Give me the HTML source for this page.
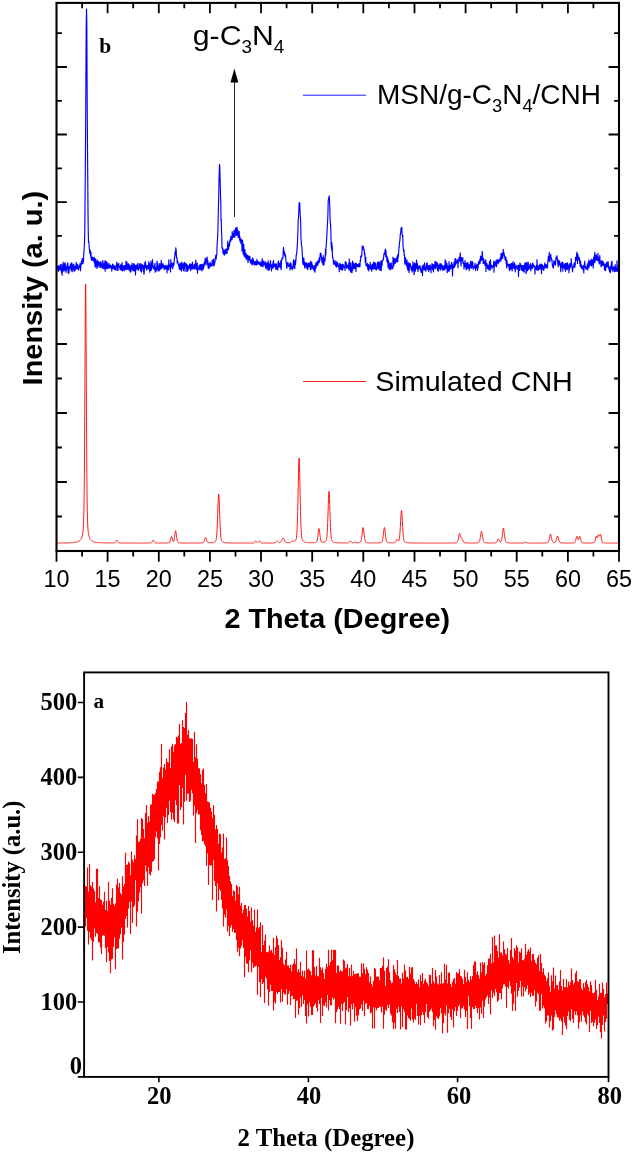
<!DOCTYPE html>
<html><head><meta charset="utf-8"><title>XRD patterns</title>
<style>html,body{margin:0;padding:0;background:#fff}svg{display:block}</style>
</head><body>
<svg width="633" height="1154" viewBox="0 0 633 1154">
<rect width="633" height="1154" fill="#fff"/>
<g font-family="'Liberation Sans', Arial, sans-serif" fill="#000">
<polyline fill="none" stroke="#0000ff" stroke-width="1.15" stroke-linejoin="round" points="56.5,273.4 56.8,267.7 57.0,269.0 57.2,269.9 57.5,266.8 57.8,268.8 58.0,268.7 58.2,265.6 58.5,271.3 58.8,270.2 59.0,266.3 59.2,268.1 59.5,269.9 59.8,267.8 60.0,267.9 60.2,264.7 60.5,269.9 60.8,268.7 61.0,269.1 61.2,264.4 61.5,272.6 61.8,268.7 62.0,267.3 62.2,275.3 62.5,268.1 62.8,264.4 63.0,267.1 63.2,262.2 63.5,270.9 63.8,267.0 64.0,266.2 64.2,270.9 64.5,263.7 64.8,269.4 65.0,262.6 65.2,266.3 65.5,264.8 65.8,271.7 66.0,272.5 66.2,267.0 66.5,270.1 66.8,267.4 67.0,269.3 67.2,265.9 67.5,263.4 67.8,263.1 68.0,268.7 68.2,273.6 68.5,268.4 68.8,266.3 69.0,272.6 69.2,268.3 69.5,267.9 69.8,268.3 70.0,267.2 70.2,266.8 70.5,263.8 70.8,268.8 71.0,267.3 71.2,270.6 71.5,266.5 71.8,262.5 72.0,267.1 72.2,271.8 72.5,266.4 72.8,265.0 73.0,269.3 73.2,264.5 73.5,266.5 73.8,264.1 74.0,271.1 74.2,266.4 74.5,267.4 74.8,270.8 75.0,270.9 75.2,266.4 75.5,267.8 75.8,268.8 76.0,266.4 76.2,262.2 76.5,268.4 76.8,269.0 77.0,267.7 77.2,264.2 77.5,266.0 77.8,264.9 78.0,265.5 78.2,269.6 78.5,270.1 78.8,267.8 79.0,267.3 79.2,267.5 79.5,265.6 79.8,265.3 80.0,263.5 80.2,265.0 80.5,270.8 80.8,266.9 81.0,263.5 81.2,262.8 81.5,261.4 81.8,264.2 82.0,263.8 82.2,258.4 82.5,262.8 82.8,259.2 83.0,263.4 83.2,258.9 83.5,261.4 83.8,253.7 84.0,251.1 84.2,248.0 84.5,242.5 84.8,229.3 85.0,206.1 85.2,183.1 85.5,147.0 85.8,102.7 86.0,58.3 86.2,28.8 86.5,9.1 86.8,22.1 87.0,61.7 87.2,104.7 87.5,146.8 87.8,184.6 88.0,210.6 88.2,228.7 88.5,242.3 88.8,241.6 89.0,244.0 89.2,247.8 89.5,249.6 89.8,253.2 90.0,251.2 90.2,250.3 90.5,256.2 90.8,253.3 91.0,252.4 91.2,259.1 91.5,256.8 91.8,260.4 92.0,258.2 92.2,257.0 92.5,257.0 92.8,259.2 93.0,260.2 93.2,259.0 93.5,260.7 93.8,257.6 94.0,261.9 94.2,257.4 94.5,261.7 94.8,264.2 95.0,265.4 95.2,267.2 95.5,258.8 95.8,265.0 96.0,266.3 96.2,265.8 96.5,261.0 96.8,264.6 97.0,268.5 97.2,259.9 97.5,265.1 97.8,266.9 98.0,263.6 98.2,265.7 98.5,261.5 98.8,262.2 99.0,262.3 99.2,265.0 99.5,264.3 99.8,267.1 100.0,262.3 100.2,264.5 100.5,267.4 100.8,266.4 101.0,261.6 101.2,266.8 101.5,263.9 101.8,266.2 102.0,266.0 102.2,268.5 102.5,265.7 102.8,260.6 103.0,261.9 103.2,267.4 103.5,264.9 103.8,268.6 104.0,266.4 104.2,263.8 104.5,268.6 104.8,263.7 105.0,260.9 105.2,271.2 105.5,260.9 105.8,267.6 106.0,268.4 106.2,266.4 106.5,261.7 106.8,268.7 107.0,262.4 107.2,262.7 107.5,265.2 107.8,268.3 108.0,267.0 108.2,268.4 108.5,265.2 108.8,265.9 109.0,263.4 109.2,265.6 109.5,268.0 109.8,265.7 110.0,267.7 110.2,265.0 110.5,265.0 110.8,266.6 111.0,266.1 111.2,268.1 111.5,267.1 111.8,271.1 112.0,266.1 112.2,266.1 112.5,264.0 112.8,266.8 113.0,268.5 113.2,264.8 113.5,266.6 113.8,268.6 114.0,266.5 114.2,265.5 114.5,269.4 114.8,267.1 115.0,267.9 115.2,269.9 115.5,269.9 115.8,266.0 116.0,265.5 116.2,266.7 116.5,266.6 116.8,262.0 117.0,270.3 117.2,267.0 117.5,268.9 117.8,264.0 118.0,270.4 118.2,265.5 118.5,266.8 118.8,263.4 119.0,266.6 119.2,266.5 119.5,266.6 119.8,268.2 120.0,267.3 120.2,269.6 120.5,265.9 120.8,264.5 121.0,267.1 121.2,268.8 121.5,270.4 121.8,269.3 122.0,262.6 122.2,268.2 122.5,271.0 122.8,267.4 123.0,265.9 123.2,268.0 123.5,265.9 123.8,268.9 124.0,267.2 124.2,270.9 124.5,268.5 124.8,265.4 125.0,266.0 125.2,269.7 125.5,265.8 125.8,266.2 126.0,261.3 126.2,269.6 126.5,265.8 126.8,261.8 127.0,262.7 127.2,266.7 127.5,269.3 127.8,267.1 128.0,268.5 128.2,264.5 128.5,263.8 128.8,269.6 129.0,268.6 129.2,267.3 129.5,270.7 129.8,264.9 130.0,266.3 130.2,270.0 130.5,272.1 130.8,267.4 131.0,271.7 131.2,265.8 131.5,268.2 131.8,266.9 132.0,263.2 132.2,268.1 132.5,269.8 132.8,267.0 133.0,267.2 133.2,271.0 133.5,264.1 133.8,263.5 134.0,265.7 134.2,264.3 134.5,270.9 134.8,268.2 135.0,265.2 135.2,265.8 135.5,274.9 135.8,265.8 136.0,265.4 136.2,268.2 136.5,269.1 136.8,268.0 137.0,265.1 137.2,264.4 137.5,269.0 137.8,267.3 138.0,263.2 138.2,270.5 138.5,269.5 138.8,266.8 139.0,266.8 139.2,268.0 139.5,265.7 139.8,263.9 140.0,268.3 140.2,263.7 140.5,271.0 140.8,263.7 141.0,267.2 141.2,267.1 141.5,272.1 141.8,264.7 142.0,264.7 142.2,265.8 142.5,264.5 142.8,265.9 143.0,268.6 143.2,269.5 143.5,271.8 143.8,265.5 144.0,274.3 144.2,272.6 144.5,266.9 144.8,262.7 145.0,267.2 145.2,267.7 145.5,261.5 145.8,267.7 146.0,266.9 146.2,265.4 146.5,269.1 146.8,270.1 147.0,266.2 147.2,268.1 147.5,265.8 147.8,265.4 148.0,267.7 148.2,268.8 148.5,266.0 148.8,261.7 149.0,269.0 149.2,263.3 149.5,267.8 149.8,272.1 150.0,267.4 150.2,264.4 150.5,263.7 150.8,270.5 151.0,261.1 151.2,268.9 151.5,269.9 151.8,267.3 152.0,266.7 152.2,265.0 152.5,259.5 152.8,263.5 153.0,267.3 153.2,267.0 153.5,268.5 153.8,267.1 154.0,267.9 154.2,269.5 154.5,265.2 154.8,266.7 155.0,263.3 155.2,272.3 155.5,267.6 155.8,268.7 156.0,271.5 156.2,270.3 156.5,267.3 156.8,269.5 157.0,261.0 157.2,268.6 157.5,267.8 157.8,263.2 158.0,270.9 158.2,265.6 158.5,269.2 158.8,266.4 159.0,270.0 159.2,270.9 159.5,265.3 159.8,263.5 160.0,267.1 160.2,269.6 160.5,266.5 160.8,265.8 161.0,268.7 161.2,260.3 161.5,265.7 161.8,263.8 162.0,268.2 162.2,265.5 162.5,264.5 162.8,266.5 163.0,263.6 163.2,267.4 163.5,265.6 163.8,266.4 164.0,265.5 164.2,269.8 164.5,267.1 164.8,268.7 165.0,268.6 165.2,265.3 165.5,268.8 165.8,268.3 166.0,268.2 166.2,266.3 166.5,266.2 166.8,269.4 167.0,273.0 167.2,265.1 167.5,268.7 167.8,266.3 168.0,269.3 168.2,268.4 168.5,270.0 168.8,259.9 169.0,265.6 169.2,264.6 169.5,266.9 169.8,265.2 170.0,265.4 170.2,268.8 170.5,272.0 170.8,259.6 171.0,266.1 171.2,263.8 171.5,266.6 171.8,265.8 172.0,263.1 172.2,264.0 172.5,268.1 172.8,268.8 173.0,265.9 173.2,263.0 173.5,264.8 173.8,265.5 174.0,263.9 174.2,261.3 174.5,257.6 174.8,257.7 175.0,252.1 175.2,255.3 175.5,254.7 175.8,247.9 176.0,252.4 176.2,249.9 176.5,257.1 176.8,258.7 177.0,257.8 177.2,262.9 177.5,260.7 177.8,261.5 178.0,262.7 178.2,264.5 178.5,264.6 178.8,266.3 179.0,264.5 179.2,268.3 179.5,269.1 179.8,265.3 180.0,263.0 180.2,268.6 180.5,269.8 180.8,266.4 181.0,263.6 181.2,267.6 181.5,270.9 181.8,262.1 182.0,268.3 182.2,266.2 182.5,264.9 182.8,268.4 183.0,263.7 183.2,267.9 183.5,270.6 183.8,267.6 184.0,264.9 184.2,262.5 184.5,263.8 184.8,262.4 185.0,271.3 185.2,266.5 185.5,264.5 185.8,263.8 186.0,264.4 186.2,266.3 186.5,263.9 186.8,271.5 187.0,265.2 187.2,265.1 187.5,268.0 187.8,270.9 188.0,270.6 188.2,265.9 188.5,267.8 188.8,267.6 189.0,268.5 189.2,267.8 189.5,264.7 189.8,263.9 190.0,267.6 190.2,264.1 190.5,270.7 190.8,267.2 191.0,264.4 191.2,266.3 191.5,265.8 191.8,266.7 192.0,269.5 192.2,263.3 192.5,262.2 192.8,267.9 193.0,266.6 193.2,267.4 193.5,268.2 193.8,266.5 194.0,269.1 194.2,264.6 194.5,267.1 194.8,264.8 195.0,264.0 195.2,268.5 195.5,268.4 195.8,260.1 196.0,263.9 196.2,267.6 196.5,269.6 196.8,265.1 197.0,266.3 197.2,263.1 197.5,273.3 197.8,268.0 198.0,269.0 198.2,268.4 198.5,269.1 198.8,268.2 199.0,265.7 199.2,268.5 199.5,266.7 199.8,269.9 200.0,264.6 200.2,265.0 200.5,268.1 200.8,269.7 201.0,266.7 201.2,264.4 201.5,265.9 201.8,264.8 202.0,271.0 202.2,268.3 202.5,269.1 202.8,266.4 203.0,264.0 203.2,268.2 203.5,269.1 203.8,265.9 204.0,263.8 204.2,266.1 204.5,261.6 204.8,263.9 205.0,261.3 205.2,258.0 205.5,261.6 205.8,260.8 206.0,264.9 206.2,259.5 206.5,260.7 206.8,258.3 207.0,257.0 207.2,257.8 207.5,264.2 207.8,260.4 208.0,266.8 208.2,267.8 208.5,263.6 208.8,268.8 209.0,265.1 209.2,267.5 209.5,264.0 209.8,267.1 210.0,262.1 210.2,266.1 210.5,263.2 210.8,264.0 211.0,265.9 211.2,264.6 211.5,263.8 211.8,265.8 212.0,265.9 212.2,260.0 212.5,264.9 212.8,265.0 213.0,261.2 213.2,263.9 213.5,259.2 213.8,266.2 214.0,261.5 214.2,262.0 214.5,264.6 214.8,260.7 215.0,262.2 215.2,257.8 215.5,258.0 215.8,255.1 216.0,257.2 216.2,259.2 216.5,255.4 216.8,254.9 217.0,246.9 217.2,243.3 217.5,239.0 217.8,234.9 218.0,225.9 218.2,214.9 218.5,205.3 218.8,191.3 219.0,180.1 219.2,174.3 219.5,164.3 219.8,166.8 220.0,176.3 220.2,181.9 220.5,194.9 220.8,203.1 221.0,220.6 221.2,219.1 221.5,229.8 221.8,236.2 222.0,247.8 222.2,248.0 222.5,248.9 222.8,248.0 223.0,253.4 223.2,253.6 223.5,252.0 223.8,250.2 224.0,251.4 224.2,254.9 224.5,255.1 224.8,254.3 225.0,253.6 225.2,249.1 225.5,253.5 225.8,250.4 226.0,252.8 226.2,253.5 226.5,250.0 226.8,248.6 227.0,253.3 227.2,251.1 227.5,247.9 227.8,241.1 228.0,248.2 228.2,249.2 228.5,249.8 228.8,243.7 229.0,243.8 229.2,243.6 229.5,246.2 229.8,240.5 230.0,242.2 230.2,239.3 230.5,241.7 230.8,236.2 231.0,240.5 231.2,237.5 231.5,239.1 231.8,238.7 232.0,239.7 232.2,231.6 232.5,238.1 232.8,236.3 233.0,233.6 233.2,237.5 233.5,233.8 233.8,236.3 234.0,231.0 234.2,230.0 234.5,235.1 234.8,237.3 235.0,233.2 235.2,233.7 235.5,230.1 235.8,227.9 236.0,230.8 236.2,235.4 236.5,229.8 236.8,230.6 237.0,227.2 237.2,232.8 237.5,235.2 237.8,230.1 238.0,232.7 238.2,237.7 238.5,234.6 238.8,232.2 239.0,232.6 239.2,231.4 239.5,239.3 239.8,236.1 240.0,241.5 240.2,241.7 240.5,238.5 240.8,239.6 241.0,243.7 241.2,242.9 241.5,243.9 241.8,239.7 242.0,251.1 242.2,243.3 242.5,240.4 242.8,245.4 243.0,248.9 243.2,253.9 243.5,248.2 243.8,244.2 244.0,256.1 244.2,251.6 244.5,251.1 244.8,249.6 245.0,250.4 245.2,257.4 245.5,253.4 245.8,253.3 246.0,253.8 246.2,259.7 246.5,254.6 246.8,258.2 247.0,257.6 247.2,257.9 247.5,255.4 247.8,259.8 248.0,262.6 248.2,258.6 248.5,256.6 248.8,255.9 249.0,260.0 249.2,259.1 249.5,259.7 249.8,260.2 250.0,256.6 250.2,262.6 250.5,261.4 250.8,260.8 251.0,261.7 251.2,263.7 251.5,261.5 251.8,259.3 252.0,264.7 252.2,260.6 252.5,264.2 252.8,257.9 253.0,262.1 253.2,259.4 253.5,260.9 253.8,263.5 254.0,262.5 254.2,265.1 254.5,263.4 254.8,261.6 255.0,261.8 255.2,261.4 255.5,264.5 255.8,262.9 256.0,261.9 256.2,265.2 256.5,263.3 256.8,261.9 257.0,259.2 257.2,264.4 257.5,263.9 257.8,263.5 258.0,262.3 258.2,261.3 258.5,262.9 258.8,264.1 259.0,263.3 259.2,263.3 259.5,262.5 259.8,264.6 260.0,264.4 260.2,261.9 260.5,265.9 260.8,266.0 261.0,266.1 261.2,263.7 261.5,263.6 261.8,261.1 262.0,266.1 262.2,258.6 262.5,263.2 262.8,263.4 263.0,266.6 263.2,264.4 263.5,261.9 263.8,260.8 264.0,262.6 264.2,264.8 264.5,264.7 264.8,264.1 265.0,262.9 265.2,264.2 265.5,267.4 265.8,261.9 266.0,264.9 266.2,269.1 266.5,266.4 266.8,263.8 267.0,266.7 267.2,263.1 267.5,265.1 267.8,269.1 268.0,270.1 268.2,260.7 268.5,267.0 268.8,270.3 269.0,263.9 269.2,266.0 269.5,269.3 269.8,264.1 270.0,266.6 270.2,265.3 270.5,260.5 270.8,266.4 271.0,265.0 271.2,268.0 271.5,271.0 271.8,267.4 272.0,264.7 272.2,266.8 272.5,266.2 272.8,268.3 273.0,262.0 273.2,262.7 273.5,260.4 273.8,267.3 274.0,266.6 274.2,264.1 274.5,263.9 274.8,264.3 275.0,266.5 275.2,265.0 275.5,264.6 275.8,269.5 276.0,266.7 276.2,263.7 276.5,264.3 276.8,269.0 277.0,267.0 277.2,266.6 277.5,267.7 277.8,269.9 278.0,262.6 278.2,263.8 278.5,261.1 278.8,266.9 279.0,264.6 279.2,264.7 279.5,263.4 279.8,267.0 280.0,264.7 280.2,263.4 280.5,267.8 280.8,261.4 281.0,260.3 281.2,269.7 281.5,261.1 281.8,259.7 282.0,258.0 282.2,258.2 282.5,259.0 282.8,257.4 283.0,258.0 283.2,251.7 283.5,247.4 283.8,251.4 284.0,254.5 284.2,253.9 284.5,251.7 284.8,255.6 285.0,254.1 285.2,256.5 285.5,255.0 285.8,258.8 286.0,261.2 286.2,261.4 286.5,264.7 286.8,268.3 287.0,267.7 287.2,263.6 287.5,262.8 287.8,263.2 288.0,262.6 288.2,265.3 288.5,266.4 288.8,265.9 289.0,265.9 289.2,265.9 289.5,265.1 289.8,263.6 290.0,270.0 290.2,268.2 290.5,263.1 290.8,263.0 291.0,263.8 291.2,265.4 291.5,268.5 291.8,267.8 292.0,267.8 292.2,269.8 292.5,267.7 292.8,266.6 293.0,265.8 293.2,264.1 293.5,259.7 293.8,263.6 294.0,268.4 294.2,262.0 294.5,261.4 294.8,268.4 295.0,262.2 295.2,260.0 295.5,264.4 295.8,260.9 296.0,259.8 296.2,254.5 296.5,255.0 296.8,251.8 297.0,249.4 297.2,246.4 297.5,241.7 297.8,234.0 298.0,229.6 298.2,219.0 298.5,217.8 298.8,212.7 299.0,205.9 299.2,202.6 299.5,204.2 299.8,203.1 300.0,210.9 300.2,215.8 300.5,218.3 300.8,226.8 301.0,239.9 301.2,240.5 301.5,245.2 301.8,246.3 302.0,249.4 302.2,252.2 302.5,257.1 302.8,263.6 303.0,262.7 303.2,264.4 303.5,264.7 303.8,257.8 304.0,262.0 304.2,261.9 304.5,266.7 304.8,268.2 305.0,262.3 305.2,264.4 305.5,265.9 305.8,263.4 306.0,263.2 306.2,263.2 306.5,267.4 306.8,262.9 307.0,268.3 307.2,265.7 307.5,268.6 307.8,269.6 308.0,264.0 308.2,263.6 308.5,266.9 308.8,263.2 309.0,264.0 309.2,265.7 309.5,266.4 309.8,262.8 310.0,265.1 310.2,267.6 310.5,269.6 310.8,261.0 311.0,269.5 311.2,268.5 311.5,263.4 311.8,262.4 312.0,267.3 312.2,265.1 312.5,266.5 312.8,268.4 313.0,265.2 313.2,269.1 313.5,267.4 313.8,268.5 314.0,270.7 314.2,270.5 314.5,266.7 314.8,265.5 315.0,272.2 315.2,267.7 315.5,267.1 315.8,263.1 316.0,267.9 316.2,263.8 316.5,264.5 316.8,262.2 317.0,262.0 317.2,265.6 317.5,261.3 317.8,262.7 318.0,264.6 318.2,261.0 318.5,260.5 318.8,260.9 319.0,258.5 319.2,262.7 319.5,257.3 319.8,260.6 320.0,259.8 320.2,253.2 320.5,255.8 320.8,254.4 321.0,253.2 321.2,256.4 321.5,257.4 321.8,260.9 322.0,262.6 322.2,257.9 322.5,260.2 322.8,263.0 323.0,264.8 323.2,255.5 323.5,265.0 323.8,261.0 324.0,265.0 324.2,259.4 324.5,257.8 324.8,259.2 325.0,261.2 325.2,257.0 325.5,249.3 325.8,255.3 326.0,247.1 326.2,245.9 326.5,242.0 326.8,236.2 327.0,232.9 327.2,228.1 327.5,223.0 327.8,217.9 328.0,210.4 328.2,200.9 328.5,198.8 328.8,198.1 329.0,196.7 329.2,195.9 329.5,200.9 329.8,207.2 330.0,214.8 330.2,222.5 330.5,223.9 330.8,230.1 331.0,240.1 331.2,245.1 331.5,249.2 331.8,242.5 332.0,250.9 332.2,245.4 332.5,257.6 332.8,257.4 333.0,258.7 333.2,259.2 333.5,263.8 333.8,260.3 334.0,264.4 334.2,263.6 334.5,263.6 334.8,264.2 335.0,263.6 335.2,260.8 335.5,265.8 335.8,266.0 336.0,264.0 336.2,266.4 336.5,267.1 336.8,261.6 337.0,264.7 337.2,264.0 337.5,262.9 337.8,266.2 338.0,263.3 338.2,266.6 338.5,266.3 338.8,266.7 339.0,266.7 339.2,271.7 339.5,264.7 339.8,266.7 340.0,263.0 340.2,267.4 340.5,269.2 340.8,269.4 341.0,264.6 341.2,265.6 341.5,269.7 341.8,266.2 342.0,268.9 342.2,264.0 342.5,270.1 342.8,269.2 343.0,267.8 343.2,264.5 343.5,266.2 343.8,267.0 344.0,267.3 344.2,266.4 344.5,266.1 344.8,267.2 345.0,270.4 345.2,261.5 345.5,263.2 345.8,262.8 346.0,265.0 346.2,262.3 346.5,268.3 346.8,267.1 347.0,266.2 347.2,265.1 347.5,267.3 347.8,267.3 348.0,267.7 348.2,265.0 348.5,268.6 348.8,263.1 349.0,270.1 349.2,258.9 349.5,265.3 349.8,263.8 350.0,268.9 350.2,263.0 350.5,271.6 350.8,262.9 351.0,272.2 351.2,268.0 351.5,267.0 351.8,268.0 352.0,272.6 352.2,269.2 352.5,261.0 352.8,269.9 353.0,267.4 353.2,262.6 353.5,268.8 353.8,263.6 354.0,267.2 354.2,267.4 354.5,265.0 354.8,268.4 355.0,264.0 355.2,267.1 355.5,263.2 355.8,266.1 356.0,271.5 356.2,266.8 356.5,263.6 356.8,266.1 357.0,264.3 357.2,266.3 357.5,266.6 357.8,266.3 358.0,266.2 358.2,264.4 358.5,266.8 358.8,265.2 359.0,263.5 359.2,264.6 359.5,264.4 359.8,266.9 360.0,265.8 360.2,260.2 360.5,261.3 360.8,256.0 361.0,255.9 361.2,256.9 361.5,256.8 361.8,255.8 362.0,250.6 362.2,246.1 362.5,249.1 362.8,246.3 363.0,247.1 363.2,246.2 363.5,248.1 363.8,248.9 364.0,250.8 364.2,249.2 364.5,254.8 364.8,252.7 365.0,256.1 365.2,262.4 365.5,260.0 365.8,257.3 366.0,265.4 366.2,265.1 366.5,266.2 366.8,264.4 367.0,265.3 367.2,264.3 367.5,263.4 367.8,269.4 368.0,264.7 368.2,264.6 368.5,264.8 368.8,270.9 369.0,268.5 369.2,265.7 369.5,266.2 369.8,267.7 370.0,268.7 370.2,262.3 370.5,268.9 370.8,266.0 371.0,264.8 371.2,265.6 371.5,268.7 371.8,271.3 372.0,267.1 372.2,268.2 372.5,264.6 372.8,268.0 373.0,268.9 373.2,262.9 373.5,265.5 373.8,268.9 374.0,262.2 374.2,265.8 374.5,268.4 374.8,262.4 375.0,265.8 375.2,266.9 375.5,269.1 375.8,263.5 376.0,269.7 376.2,267.6 376.5,269.9 376.8,269.8 377.0,267.6 377.2,268.0 377.5,262.2 377.8,263.2 378.0,264.0 378.2,265.7 378.5,269.0 378.8,261.9 379.0,265.6 379.2,263.0 379.5,262.3 379.8,270.1 380.0,266.4 380.2,270.3 380.5,269.0 380.8,263.4 381.0,260.7 381.2,270.6 381.5,263.8 381.8,261.4 382.0,265.6 382.2,263.5 382.5,260.5 382.8,260.4 383.0,260.5 383.2,259.0 383.5,259.4 383.8,255.0 384.0,253.6 384.2,254.7 384.5,252.9 384.8,254.2 385.0,250.4 385.2,251.0 385.5,249.0 385.8,257.0 386.0,250.8 386.2,256.4 386.5,255.0 386.8,259.6 387.0,261.9 387.2,256.8 387.5,261.5 387.8,258.3 388.0,267.2 388.2,263.0 388.5,260.5 388.8,263.1 389.0,268.6 389.2,269.2 389.5,268.8 389.8,263.6 390.0,265.3 390.2,270.0 390.5,263.8 390.8,264.9 391.0,264.8 391.2,262.7 391.5,268.8 391.8,267.2 392.0,266.7 392.2,266.8 392.5,267.8 392.8,268.8 393.0,257.1 393.2,263.3 393.5,261.1 393.8,266.0 394.0,261.4 394.2,258.3 394.5,261.0 394.8,261.4 395.0,263.2 395.2,263.6 395.5,259.1 395.8,259.0 396.0,260.4 396.2,258.1 396.5,260.9 396.8,262.2 397.0,260.8 397.2,255.9 397.5,256.2 397.8,261.6 398.0,254.3 398.2,257.4 398.5,255.3 398.8,250.8 399.0,246.8 399.2,247.5 399.5,242.1 399.8,241.3 400.0,239.4 400.2,234.7 400.5,233.8 400.8,231.8 401.0,228.1 401.2,230.3 401.5,229.4 401.8,227.3 402.0,232.8 402.2,235.0 402.5,236.6 402.8,235.4 403.0,245.5 403.2,247.9 403.5,250.3 403.8,251.9 404.0,249.9 404.2,255.5 404.5,254.5 404.8,264.1 405.0,258.3 405.2,262.5 405.5,257.7 405.8,261.6 406.0,261.7 406.2,265.5 406.5,265.5 406.8,265.2 407.0,259.9 407.2,267.9 407.5,262.8 407.8,269.6 408.0,270.4 408.2,267.8 408.5,268.4 408.8,262.6 409.0,272.7 409.2,266.7 409.5,268.8 409.8,264.0 410.0,266.1 410.2,263.3 410.5,265.8 410.8,266.5 411.0,267.2 411.2,270.2 411.5,267.9 411.8,267.3 412.0,266.8 412.2,271.9 412.5,265.2 412.8,269.9 413.0,261.7 413.2,264.6 413.5,267.9 413.8,266.5 414.0,274.7 414.2,273.6 414.5,263.0 414.8,264.2 415.0,266.6 415.2,271.5 415.5,270.0 415.8,267.9 416.0,263.4 416.2,264.9 416.5,260.1 416.8,263.1 417.0,268.2 417.2,269.2 417.5,263.7 417.8,267.4 418.0,271.4 418.2,267.6 418.5,266.4 418.8,268.8 419.0,268.6 419.2,267.4 419.5,265.8 419.8,266.1 420.0,267.5 420.2,265.8 420.5,270.7 420.8,269.6 421.0,270.1 421.2,272.5 421.5,271.4 421.8,271.0 422.0,268.2 422.2,266.8 422.5,275.7 422.8,265.5 423.0,265.7 423.2,265.0 423.5,267.9 423.8,268.4 424.0,270.0 424.2,266.7 424.5,262.8 424.8,268.1 425.0,269.9 425.2,267.4 425.5,267.0 425.8,268.8 426.0,271.1 426.2,267.2 426.5,263.6 426.8,265.9 427.0,266.9 427.2,262.7 427.5,269.3 427.8,265.4 428.0,269.6 428.2,267.9 428.5,266.5 428.8,271.6 429.0,265.9 429.2,265.6 429.5,268.1 429.8,269.5 430.0,267.3 430.2,264.8 430.5,269.2 430.8,268.9 431.0,272.8 431.2,266.8 431.5,267.9 431.8,265.9 432.0,263.5 432.2,267.6 432.5,269.6 432.8,264.7 433.0,265.6 433.2,264.3 433.5,271.9 433.8,265.7 434.0,268.9 434.2,265.1 434.5,267.6 434.8,265.7 435.0,261.3 435.2,267.6 435.5,268.7 435.8,261.9 436.0,266.9 436.2,266.2 436.5,264.6 436.8,266.7 437.0,262.3 437.2,268.0 437.5,270.4 437.8,264.1 438.0,267.2 438.2,271.1 438.5,267.7 438.8,266.0 439.0,265.0 439.2,267.8 439.5,267.0 439.8,269.0 440.0,263.4 440.2,270.1 440.5,266.3 440.8,269.0 441.0,265.4 441.2,263.9 441.5,265.8 441.8,264.8 442.0,266.3 442.2,269.0 442.5,270.1 442.8,268.0 443.0,265.9 443.2,266.1 443.5,268.8 443.8,270.2 444.0,266.4 444.2,266.9 444.5,265.3 444.8,268.4 445.0,269.7 445.2,259.7 445.5,267.9 445.8,265.8 446.0,261.2 446.2,268.0 446.5,267.0 446.8,268.1 447.0,263.6 447.2,272.7 447.5,267.4 447.8,266.2 448.0,271.1 448.2,268.8 448.5,269.2 448.8,270.1 449.0,261.6 449.2,271.3 449.5,266.1 449.8,267.7 450.0,269.3 450.2,265.0 450.5,267.6 450.8,268.7 451.0,266.6 451.2,267.9 451.5,262.4 451.8,263.4 452.0,263.4 452.2,267.2 452.5,275.9 452.8,266.7 453.0,265.1 453.2,265.5 453.5,268.1 453.8,267.2 454.0,262.1 454.2,267.5 454.5,264.6 454.8,266.5 455.0,258.9 455.2,259.8 455.5,265.0 455.8,258.5 456.0,263.8 456.2,263.4 456.5,262.5 456.8,262.7 457.0,260.8 457.2,262.2 457.5,259.7 457.8,260.3 458.0,267.7 458.2,262.8 458.5,261.1 458.8,260.4 459.0,257.3 459.2,259.6 459.5,258.3 459.8,261.4 460.0,256.6 460.2,252.9 460.5,257.8 460.8,261.2 461.0,266.0 461.2,262.6 461.5,257.6 461.8,259.9 462.0,258.4 462.2,260.7 462.5,259.2 462.8,257.6 463.0,263.4 463.2,263.1 463.5,262.5 463.8,264.2 464.0,268.9 464.2,264.2 464.5,263.2 464.8,266.7 465.0,260.4 465.2,266.9 465.5,263.1 465.8,263.2 466.0,265.8 466.2,270.0 466.5,263.9 466.8,268.5 467.0,267.1 467.2,262.6 467.5,268.7 467.8,265.3 468.0,262.7 468.2,264.5 468.5,264.7 468.8,268.2 469.0,264.8 469.2,270.6 469.5,267.4 469.8,264.9 470.0,264.7 470.2,267.4 470.5,261.6 470.8,261.2 471.0,264.6 471.2,268.5 471.5,263.7 471.8,267.0 472.0,266.4 472.2,261.3 472.5,266.1 472.8,262.3 473.0,269.1 473.2,266.9 473.5,266.7 473.8,267.9 474.0,267.7 474.2,267.4 474.5,267.7 474.8,265.2 475.0,263.3 475.2,267.6 475.5,270.4 475.8,269.2 476.0,265.9 476.2,267.9 476.5,265.0 476.8,267.0 477.0,264.2 477.2,265.9 477.5,270.5 477.8,267.0 478.0,268.5 478.2,265.7 478.5,261.9 478.8,263.0 479.0,264.0 479.2,261.4 479.5,264.0 479.8,259.3 480.0,263.6 480.2,262.0 480.5,256.1 480.8,260.0 481.0,257.6 481.2,260.6 481.5,256.4 481.8,258.1 482.0,259.6 482.2,251.3 482.5,254.1 482.8,259.8 483.0,259.8 483.2,263.4 483.5,261.9 483.8,258.7 484.0,263.4 484.2,261.2 484.5,263.1 484.8,262.8 485.0,265.5 485.2,261.3 485.5,262.4 485.8,259.8 486.0,271.4 486.2,263.4 486.5,263.9 486.8,263.3 487.0,264.8 487.2,265.4 487.5,268.7 487.8,267.1 488.0,267.6 488.2,265.2 488.5,266.6 488.8,270.0 489.0,266.8 489.2,267.7 489.5,261.6 489.8,268.2 490.0,267.6 490.2,270.2 490.5,259.7 490.8,266.9 491.0,266.5 491.2,267.1 491.5,265.2 491.8,267.4 492.0,268.6 492.2,266.9 492.5,266.0 492.8,266.1 493.0,265.6 493.2,266.7 493.5,264.6 493.8,261.2 494.0,272.2 494.2,261.5 494.5,265.6 494.8,266.7 495.0,264.7 495.2,262.6 495.5,264.7 495.8,262.2 496.0,260.6 496.2,264.4 496.5,266.6 496.8,263.6 497.0,262.6 497.2,259.3 497.5,261.5 497.8,262.7 498.0,259.8 498.2,263.8 498.5,261.3 498.8,262.3 499.0,260.1 499.2,260.1 499.5,261.8 499.8,262.0 500.0,261.6 500.2,257.6 500.5,257.8 500.8,259.0 501.0,253.6 501.2,260.3 501.5,257.6 501.8,256.1 502.0,253.3 502.2,256.6 502.5,253.2 502.8,258.4 503.0,254.2 503.2,249.3 503.5,255.2 503.8,252.3 504.0,252.9 504.2,254.4 504.5,255.5 504.8,257.4 505.0,259.6 505.2,259.8 505.5,257.6 505.8,256.9 506.0,259.1 506.2,262.9 506.5,265.0 506.8,268.0 507.0,260.4 507.2,264.4 507.5,264.2 507.8,264.1 508.0,265.8 508.2,265.0 508.5,265.2 508.8,264.4 509.0,267.2 509.2,269.1 509.5,270.7 509.8,265.1 510.0,263.8 510.2,265.4 510.5,264.5 510.8,269.4 511.0,264.6 511.2,267.0 511.5,263.3 511.8,266.0 512.0,267.4 512.2,270.9 512.5,263.5 512.8,267.9 513.0,261.6 513.2,263.9 513.5,264.9 513.8,265.7 514.0,268.2 514.2,268.7 514.5,262.9 514.8,268.4 515.0,264.2 515.2,271.9 515.5,267.9 515.8,267.5 516.0,266.7 516.2,267.0 516.5,267.1 516.8,265.3 517.0,269.1 517.2,267.9 517.5,269.1 517.8,267.0 518.0,268.9 518.2,265.2 518.5,276.4 518.8,265.3 519.0,266.0 519.2,269.7 519.5,270.4 519.8,265.1 520.0,262.9 520.2,263.6 520.5,264.6 520.8,265.2 521.0,266.8 521.2,269.9 521.5,270.0 521.8,265.6 522.0,268.6 522.2,269.5 522.5,270.9 522.8,269.5 523.0,265.3 523.2,269.2 523.5,271.2 523.8,265.9 524.0,272.3 524.2,271.7 524.5,266.6 524.8,263.2 525.0,265.7 525.2,266.3 525.5,268.6 525.8,262.9 526.0,273.6 526.2,273.3 526.5,265.4 526.8,262.4 527.0,266.8 527.2,268.4 527.5,270.8 527.8,269.1 528.0,265.4 528.2,262.1 528.5,268.6 528.8,269.4 529.0,266.4 529.2,268.0 529.5,267.8 529.8,266.6 530.0,264.2 530.2,268.1 530.5,263.6 530.8,270.9 531.0,264.9 531.2,268.5 531.5,265.3 531.8,268.2 532.0,266.7 532.2,268.6 532.5,263.5 532.8,263.0 533.0,266.5 533.2,266.3 533.5,264.8 533.8,265.4 534.0,265.3 534.2,267.5 534.5,266.3 534.8,267.3 535.0,274.0 535.2,267.6 535.5,268.2 535.8,268.8 536.0,266.9 536.2,265.7 536.5,269.5 536.8,269.9 537.0,259.6 537.2,266.8 537.5,266.3 537.8,265.7 538.0,270.4 538.2,265.8 538.5,269.4 538.8,269.7 539.0,266.1 539.2,269.1 539.5,265.2 539.8,266.7 540.0,264.3 540.2,264.8 540.5,269.0 540.8,268.6 541.0,264.1 541.2,264.0 541.5,273.7 541.8,265.4 542.0,264.8 542.2,268.4 542.5,265.0 542.8,266.1 543.0,269.3 543.2,269.6 543.5,266.4 543.8,270.4 544.0,266.5 544.2,266.2 544.5,266.8 544.8,262.9 545.0,268.1 545.2,267.4 545.5,264.5 545.8,266.9 546.0,264.9 546.2,264.6 546.5,265.4 546.8,268.1 547.0,265.7 547.2,267.6 547.5,267.6 547.8,262.6 548.0,260.0 548.2,258.4 548.5,256.3 548.8,260.2 549.0,260.9 549.2,252.4 549.5,257.6 549.8,257.9 550.0,261.7 550.2,256.6 550.5,257.1 550.8,254.4 551.0,257.5 551.2,257.9 551.5,259.2 551.8,260.4 552.0,259.6 552.2,264.0 552.5,265.7 552.8,267.0 553.0,264.9 553.2,268.0 553.5,267.9 553.8,261.0 554.0,263.9 554.2,260.9 554.5,261.0 554.8,263.2 555.0,261.6 555.2,264.7 555.5,265.2 555.8,260.0 556.0,257.6 556.2,257.0 556.5,257.1 556.8,258.6 557.0,255.7 557.2,259.8 557.5,258.6 557.8,263.0 558.0,264.9 558.2,266.8 558.5,262.8 558.8,260.5 559.0,260.3 559.2,264.4 559.5,261.9 559.8,261.7 560.0,265.3 560.2,263.8 560.5,268.3 560.8,271.7 561.0,266.1 561.2,267.6 561.5,262.7 561.8,267.3 562.0,265.1 562.2,264.0 562.5,262.1 562.8,271.1 563.0,262.8 563.2,263.8 563.5,267.0 563.8,267.8 564.0,267.8 564.2,267.3 564.5,264.7 564.8,269.0 565.0,267.5 565.2,263.3 565.5,271.2 565.8,266.2 566.0,269.5 566.2,263.3 566.5,264.0 566.8,265.6 567.0,265.2 567.2,269.7 567.5,262.8 567.8,267.5 568.0,264.4 568.2,268.4 568.5,267.5 568.8,265.6 569.0,272.8 569.2,266.8 569.5,269.8 569.8,263.5 570.0,266.6 570.2,267.1 570.5,267.2 570.8,265.9 571.0,264.6 571.2,258.6 571.5,265.1 571.8,264.1 572.0,265.7 572.2,268.5 572.5,271.8 572.8,267.3 573.0,268.3 573.2,267.0 573.5,267.0 573.8,266.2 574.0,263.6 574.2,263.0 574.5,264.1 574.8,267.4 575.0,264.1 575.2,265.6 575.5,257.4 575.8,260.2 576.0,260.5 576.2,260.2 576.5,254.8 576.8,253.1 577.0,252.0 577.2,256.3 577.5,263.5 577.8,258.1 578.0,254.6 578.2,259.1 578.5,258.0 578.8,259.8 579.0,258.8 579.2,257.3 579.5,259.9 579.8,263.8 580.0,263.4 580.2,266.3 580.5,260.9 580.8,266.9 581.0,264.7 581.2,265.5 581.5,268.5 581.8,265.2 582.0,266.5 582.2,267.7 582.5,267.9 582.8,268.4 583.0,269.8 583.2,267.9 583.5,265.4 583.8,273.0 584.0,266.6 584.2,267.7 584.5,264.8 584.8,261.1 585.0,264.7 585.2,266.9 585.5,268.1 585.8,266.8 586.0,268.8 586.2,269.2 586.5,269.2 586.8,266.6 587.0,266.7 587.2,265.9 587.5,264.1 587.8,270.0 588.0,262.9 588.2,265.9 588.5,266.5 588.8,260.2 589.0,267.5 589.2,264.5 589.5,265.8 589.8,264.2 590.0,260.8 590.2,265.1 590.5,264.6 590.8,262.7 591.0,265.0 591.2,259.0 591.5,266.0 591.8,264.8 592.0,264.8 592.2,263.3 592.5,259.9 592.8,262.7 593.0,260.0 593.2,268.1 593.5,259.6 593.8,257.0 594.0,258.6 594.2,262.9 594.5,257.4 594.8,252.2 595.0,262.1 595.2,258.9 595.5,256.6 595.8,259.6 596.0,255.3 596.2,254.6 596.5,260.1 596.8,256.3 597.0,259.1 597.2,257.9 597.5,260.2 597.8,258.6 598.0,253.2 598.2,260.6 598.5,257.9 598.8,261.8 599.0,260.1 599.2,263.9 599.5,259.7 599.8,255.6 600.0,260.5 600.2,263.0 600.5,261.2 600.8,261.2 601.0,266.6 601.2,262.7 601.5,266.2 601.8,265.1 602.0,260.3 602.2,261.9 602.5,263.8 602.8,265.7 603.0,263.0 603.2,261.7 603.5,262.9 603.8,264.4 604.0,263.6 604.2,264.5 604.5,270.0 604.8,267.1 605.0,264.3 605.2,266.5 605.5,270.7 605.8,268.4 606.0,266.5 606.2,263.3 606.5,262.5 606.8,266.1 607.0,266.8 607.2,262.9 607.5,263.6 607.8,267.0 608.0,261.4 608.2,262.7 608.5,267.1 608.8,268.7 609.0,268.1 609.2,269.9 609.5,271.4 609.8,269.7 610.0,266.6 610.2,272.9 610.5,271.7 610.8,269.8 611.0,265.3 611.2,268.4 611.5,262.0 611.8,266.6 612.0,261.0 612.2,266.3 612.5,270.1 612.8,267.5 613.0,271.7 613.2,267.5 613.5,267.8 613.8,266.7 614.0,268.9 614.2,267.4 614.5,270.6 614.8,271.7 615.0,268.5 615.2,264.6 615.5,269.0 615.8,271.1 616.0,269.2 616.2,268.3 616.5,270.0 616.8,271.0 617.0,260.8 617.2,271.5 617.5,270.8 617.8,268.8 618.0,266.1 618.2,268.2 618.5,269.2 618.8,263.7 619.0,269.6"/>
<polyline fill="none" stroke="#ff0000" stroke-width="0.9" stroke-linejoin="round" points="56.5,543.0 56.7,543.0 56.9,543.0 57.1,543.0 57.3,543.0 57.5,543.0 57.7,543.0 57.9,543.0 58.1,543.0 58.3,543.0 58.5,543.0 58.7,543.0 58.9,543.0 59.1,543.0 59.3,543.0 59.5,543.0 59.7,543.0 59.9,543.0 60.1,543.0 60.3,543.0 60.5,543.0 60.7,543.0 60.9,543.0 61.1,543.0 61.3,543.0 61.5,543.0 61.7,542.9 61.9,542.9 62.1,542.9 62.3,542.9 62.5,542.9 62.7,542.9 62.9,542.9 63.1,542.9 63.3,542.9 63.5,542.9 63.7,542.9 63.9,542.9 64.1,542.9 64.3,542.9 64.5,542.9 64.7,542.9 64.9,542.9 65.1,542.9 65.3,542.9 65.5,542.9 65.7,542.9 65.9,542.9 66.1,542.9 66.3,542.9 66.5,542.9 66.7,542.9 66.9,542.9 67.1,542.8 67.3,542.8 67.5,542.8 67.7,542.8 67.9,542.8 68.1,542.8 68.3,542.8 68.5,542.8 68.7,542.8 68.9,542.8 69.1,542.8 69.3,542.8 69.5,542.8 69.7,542.8 69.9,542.8 70.1,542.7 70.3,542.7 70.5,542.7 70.7,542.7 70.9,542.7 71.1,542.7 71.3,542.7 71.5,542.7 71.7,542.7 71.9,542.6 72.1,542.6 72.3,542.6 72.5,542.6 72.7,542.6 72.9,542.6 73.1,542.6 73.3,542.5 73.5,542.5 73.7,542.5 73.9,542.5 74.1,542.5 74.3,542.4 74.5,542.4 74.7,542.4 74.9,542.4 75.1,542.3 75.3,542.3 75.5,542.3 75.7,542.2 75.9,542.2 76.1,542.2 76.3,542.1 76.5,542.1 76.7,542.0 76.9,542.0 77.1,541.9 77.3,541.9 77.5,541.8 77.7,541.7 77.9,541.7 78.1,541.6 78.3,541.5 78.5,541.4 78.7,541.3 78.9,541.2 79.1,541.1 79.3,541.0 79.5,540.9 79.7,540.7 79.9,540.5 80.1,540.3 80.3,540.1 80.5,539.9 80.7,539.7 80.9,539.4 81.1,539.0 81.3,538.7 81.5,538.2 81.7,537.7 81.9,537.2 82.1,536.5 82.3,535.8 82.5,534.8 82.7,533.7 82.9,532.3 83.1,530.5 83.3,528.0 83.5,524.4 83.7,518.9 83.9,510.5 84.1,497.8 84.3,479.3 84.5,453.9 84.7,421.3 84.9,382.8 85.1,342.1 85.3,306.1 85.5,284.1 85.7,284.1 85.9,306.1 86.1,342.1 86.3,382.8 86.5,421.3 86.7,453.9 86.9,479.3 87.1,497.8 87.3,510.5 87.5,518.9 87.7,524.4 87.9,528.0 88.1,530.5 88.3,532.3 88.5,533.7 88.7,534.8 88.9,535.8 89.1,536.5 89.3,537.2 89.5,537.7 89.7,538.2 89.9,538.7 90.1,539.0 90.3,539.4 90.5,539.7 90.7,539.9 90.9,540.1 91.1,540.3 91.3,540.5 91.5,540.7 91.7,540.8 91.9,541.0 92.1,541.1 92.3,541.2 92.5,541.3 92.7,541.4 92.9,541.5 93.1,541.6 93.3,541.7 93.5,541.7 93.7,541.8 93.9,541.9 94.1,541.9 94.3,542.0 94.5,542.0 94.7,542.1 94.9,542.1 95.1,542.2 95.3,542.2 95.5,542.2 95.7,542.3 95.9,542.3 96.1,542.3 96.3,542.4 96.5,542.4 96.7,542.4 96.9,542.4 97.1,542.5 97.3,542.5 97.5,542.5 97.7,542.5 97.9,542.5 98.1,542.6 98.3,542.6 98.5,542.6 98.7,542.6 98.9,542.6 99.1,542.6 99.3,542.6 99.5,542.7 99.7,542.7 99.9,542.7 100.1,542.7 100.3,542.7 100.5,542.7 100.7,542.7 100.9,542.7 101.1,542.7 101.3,542.7 101.5,542.8 101.7,542.8 101.9,542.8 102.1,542.8 102.3,542.8 102.5,542.8 102.7,542.8 102.9,542.8 103.1,542.8 103.3,542.8 103.5,542.8 103.7,542.8 103.9,542.8 104.1,542.8 104.3,542.8 104.5,542.9 104.7,542.9 104.9,542.9 105.1,542.9 105.3,542.9 105.5,542.9 105.7,542.9 105.9,542.9 106.1,542.9 106.3,542.9 106.5,542.9 106.7,542.9 106.9,542.9 107.1,542.9 107.3,542.9 107.5,542.9 107.7,542.9 107.9,542.9 108.1,542.9 108.3,542.9 108.5,542.9 108.7,542.9 108.9,542.9 109.1,542.9 109.3,542.9 109.5,542.9 109.7,542.9 109.9,542.9 110.1,542.9 110.3,542.9 110.5,542.9 110.7,542.9 110.9,542.9 111.1,542.9 111.3,542.9 111.5,542.9 111.7,542.9 111.9,542.9 112.1,542.9 112.3,542.9 112.5,542.9 112.7,542.9 112.9,542.9 113.1,542.9 113.3,542.9 113.5,542.9 113.7,542.9 113.9,542.9 114.1,542.9 114.3,542.8 114.5,542.8 114.7,542.7 114.9,542.6 115.1,542.5 115.3,542.3 115.5,542.0 115.7,541.7 115.9,541.3 116.1,540.9 116.3,540.5 116.5,540.2 116.7,540.0 116.9,540.0 117.1,540.2 117.3,540.5 117.5,540.9 117.7,541.3 117.9,541.7 118.1,542.0 118.3,542.3 118.5,542.5 118.7,542.6 118.9,542.8 119.1,542.8 119.3,542.9 119.5,542.9 119.7,542.9 119.9,542.9 120.1,542.9 120.3,543.0 120.5,543.0 120.7,543.0 120.9,543.0 121.1,543.0 121.3,543.0 121.5,543.0 121.7,543.0 121.9,543.0 122.1,543.0 122.3,543.0 122.5,543.0 122.7,543.0 122.9,543.0 123.1,543.0 123.3,543.0 123.5,543.0 123.7,543.0 123.9,543.0 124.1,543.0 124.3,543.0 124.5,543.0 124.7,543.0 124.9,543.0 125.1,543.0 125.3,543.0 125.5,543.0 125.7,543.0 125.9,543.0 126.1,543.0 126.3,543.0 126.5,543.0 126.7,543.0 126.9,543.0 127.1,543.0 127.3,543.0 127.5,543.0 127.7,543.0 127.9,543.0 128.1,543.0 128.3,543.0 128.5,543.0 128.7,543.0 128.9,543.0 129.1,543.0 129.3,543.0 129.5,543.0 129.7,543.0 129.9,543.0 130.1,543.0 130.3,543.0 130.5,543.0 130.7,543.0 130.9,543.0 131.1,543.0 131.3,543.0 131.5,543.0 131.7,543.0 131.9,543.0 132.1,543.0 132.3,543.0 132.5,543.0 132.7,543.0 132.9,543.0 133.1,543.0 133.3,543.0 133.5,543.0 133.7,543.0 133.9,543.0 134.1,543.0 134.3,543.0 134.5,543.0 134.7,543.0 134.9,543.1 135.1,543.1 135.3,543.1 135.5,543.1 135.7,543.1 135.9,543.1 136.1,543.1 136.3,543.1 136.5,543.1 136.7,543.1 136.9,543.1 137.1,543.1 137.3,543.1 137.5,543.1 137.7,543.1 137.9,543.1 138.1,543.1 138.3,543.1 138.5,543.1 138.7,543.1 138.9,543.1 139.1,543.1 139.3,543.1 139.5,543.1 139.7,543.1 139.9,543.1 140.1,543.1 140.3,543.1 140.5,543.1 140.7,543.1 140.9,543.1 141.1,543.1 141.3,543.1 141.5,543.1 141.7,543.1 141.9,543.1 142.1,543.1 142.3,543.1 142.5,543.1 142.7,543.1 142.9,543.1 143.1,543.1 143.3,543.1 143.5,543.1 143.7,543.1 143.9,543.1 144.1,543.1 144.3,543.1 144.5,543.0 144.7,543.0 144.9,543.0 145.1,543.0 145.3,543.0 145.5,543.0 145.7,543.0 145.9,543.0 146.1,543.0 146.3,543.0 146.5,543.0 146.7,543.0 146.9,543.0 147.1,543.0 147.3,543.0 147.5,543.0 147.7,543.0 147.9,543.0 148.1,543.0 148.3,543.0 148.5,543.0 148.7,543.0 148.9,543.0 149.1,543.0 149.3,543.0 149.5,543.0 149.7,543.0 149.9,543.0 150.1,543.0 150.3,543.0 150.5,543.0 150.7,542.9 150.9,542.9 151.1,542.9 151.3,542.8 151.5,542.7 151.7,542.5 151.9,542.3 152.1,542.1 152.3,541.7 152.5,541.4 152.7,541.0 152.9,540.6 153.1,540.3 153.3,540.1 153.5,540.1 153.7,540.3 153.9,540.6 154.1,541.0 154.3,541.4 154.5,541.7 154.7,542.1 154.9,542.3 155.1,542.5 155.3,542.7 155.5,542.8 155.7,542.9 155.9,542.9 156.1,542.9 156.3,543.0 156.5,543.0 156.7,543.0 156.9,543.0 157.1,543.0 157.3,543.0 157.5,543.0 157.7,543.0 157.9,543.0 158.1,543.0 158.3,543.0 158.5,543.0 158.7,543.0 158.9,543.0 159.1,543.0 159.3,543.0 159.5,543.0 159.7,543.0 159.9,543.0 160.1,543.0 160.3,543.0 160.5,543.0 160.7,543.0 160.9,543.0 161.1,543.0 161.3,543.0 161.5,543.0 161.7,543.0 161.9,543.0 162.1,543.0 162.3,543.0 162.5,543.0 162.7,543.0 162.9,543.0 163.1,543.0 163.3,543.0 163.5,543.0 163.7,543.0 163.9,543.0 164.1,543.0 164.3,543.0 164.5,543.0 164.7,543.0 164.9,543.0 165.1,543.0 165.3,543.0 165.5,543.0 165.7,543.0 165.9,543.0 166.1,543.0 166.3,543.0 166.5,543.0 166.7,543.0 166.9,542.9 167.1,542.9 167.3,542.9 167.5,542.9 167.7,542.9 167.9,542.9 168.1,542.9 168.3,542.9 168.5,542.8 168.7,542.8 168.9,542.8 169.1,542.7 169.3,542.6 169.5,542.5 169.7,542.3 169.9,542.0 170.1,541.5 170.3,540.9 170.5,540.1 170.7,539.2 170.9,538.2 171.1,537.3 171.3,536.6 171.5,536.4 171.7,536.6 171.9,537.2 172.1,538.1 172.3,539.0 172.5,539.9 172.7,540.6 172.9,541.1 173.1,541.5 173.3,541.6 173.5,541.5 173.7,541.2 173.9,540.7 174.1,539.9 174.3,538.8 174.5,537.5 174.7,536.0 174.9,534.3 175.1,532.8 175.3,531.5 175.5,530.8 175.7,530.8 175.9,531.5 176.1,532.8 176.3,534.4 176.5,536.1 176.7,537.6 176.9,539.0 177.1,540.1 177.3,540.9 177.5,541.5 177.7,541.9 177.9,542.2 178.1,542.4 178.3,542.5 178.5,542.6 178.7,542.7 178.9,542.7 179.1,542.8 179.3,542.8 179.5,542.8 179.7,542.8 179.9,542.9 180.1,542.9 180.3,542.9 180.5,542.9 180.7,542.9 180.9,542.9 181.1,542.9 181.3,542.9 181.5,542.9 181.7,543.0 181.9,543.0 182.1,543.0 182.3,543.0 182.5,543.0 182.7,543.0 182.9,543.0 183.1,543.0 183.3,543.0 183.5,543.0 183.7,543.0 183.9,543.0 184.1,543.0 184.3,543.0 184.5,543.0 184.7,543.0 184.9,543.0 185.1,543.0 185.3,543.0 185.5,543.0 185.7,543.0 185.9,543.0 186.1,543.0 186.3,543.0 186.5,543.0 186.7,543.0 186.9,543.0 187.1,543.0 187.3,543.0 187.5,543.0 187.7,543.0 187.9,543.0 188.1,543.0 188.3,543.0 188.5,543.0 188.7,543.0 188.9,543.0 189.1,543.0 189.3,543.0 189.5,543.0 189.7,543.0 189.9,543.0 190.1,543.0 190.3,543.0 190.5,543.0 190.7,543.0 190.9,543.0 191.1,543.0 191.3,543.0 191.5,543.0 191.7,543.0 191.9,543.0 192.1,543.0 192.3,543.0 192.5,543.0 192.7,543.0 192.9,543.0 193.1,543.0 193.3,543.0 193.5,543.0 193.7,543.0 193.9,543.0 194.1,543.0 194.3,543.0 194.5,543.0 194.7,543.0 194.9,543.0 195.1,543.0 195.3,543.0 195.5,543.0 195.7,543.0 195.9,543.0 196.1,543.0 196.3,543.0 196.5,543.0 196.7,543.0 196.9,543.0 197.1,543.0 197.3,543.0 197.5,543.0 197.7,543.0 197.9,543.0 198.1,543.0 198.3,543.0 198.5,543.0 198.7,543.0 198.9,543.0 199.1,543.0 199.3,543.0 199.5,543.0 199.7,543.0 199.9,543.0 200.1,543.0 200.3,543.0 200.5,542.9 200.7,542.9 200.9,542.9 201.1,542.9 201.3,542.9 201.5,542.9 201.7,542.9 201.9,542.9 202.1,542.8 202.3,542.8 202.5,542.8 202.7,542.7 202.9,542.7 203.1,542.6 203.3,542.4 203.5,542.2 203.7,541.9 203.9,541.6 204.1,541.1 204.3,540.5 204.5,539.9 204.7,539.2 204.9,538.6 205.1,538.0 205.3,537.6 205.5,537.5 205.7,537.6 205.9,538.0 206.1,538.6 206.3,539.2 206.5,539.9 206.7,540.5 206.9,541.1 207.1,541.5 207.3,541.9 207.5,542.2 207.7,542.4 207.9,542.5 208.1,542.6 208.3,542.6 208.5,542.7 208.7,542.7 208.9,542.7 209.1,542.7 209.3,542.7 209.5,542.7 209.7,542.7 209.9,542.7 210.1,542.7 210.3,542.7 210.5,542.7 210.7,542.7 210.9,542.7 211.1,542.7 211.3,542.7 211.5,542.7 211.7,542.6 211.9,542.6 212.1,542.6 212.3,542.6 212.5,542.6 212.7,542.5 212.9,542.5 213.1,542.5 213.3,542.4 213.5,542.4 213.7,542.3 213.9,542.3 214.1,542.2 214.3,542.1 214.5,542.0 214.7,541.9 214.9,541.8 215.1,541.7 215.3,541.5 215.5,541.2 215.7,540.9 215.9,540.4 216.1,539.7 216.3,538.6 216.5,537.2 216.7,535.2 216.9,532.5 217.1,529.1 217.3,524.9 217.5,519.9 217.7,514.4 217.9,508.6 218.1,503.1 218.3,498.4 218.5,495.2 218.7,494.1 218.9,495.2 219.1,498.4 219.3,503.1 219.5,508.6 219.7,514.4 219.9,519.9 220.1,524.9 220.3,529.1 220.5,532.5 220.7,535.2 220.9,537.2 221.1,538.7 221.3,539.7 221.5,540.4 221.7,540.9 221.9,541.2 222.1,541.5 222.3,541.7 222.5,541.8 222.7,541.9 222.9,542.0 223.1,542.1 223.3,542.2 223.5,542.3 223.7,542.3 223.9,542.4 224.1,542.4 224.3,542.5 224.5,542.5 224.7,542.6 224.9,542.6 225.1,542.6 225.3,542.6 225.5,542.7 225.7,542.7 225.9,542.7 226.1,542.7 226.3,542.7 226.5,542.8 226.7,542.8 226.9,542.8 227.1,542.8 227.3,542.8 227.5,542.8 227.7,542.8 227.9,542.9 228.1,542.9 228.3,542.9 228.5,542.9 228.7,542.9 228.9,542.9 229.1,542.9 229.3,542.9 229.5,542.9 229.7,542.9 229.9,542.9 230.1,542.9 230.3,542.9 230.5,542.9 230.7,542.9 230.9,542.9 231.1,543.0 231.3,543.0 231.5,543.0 231.7,543.0 231.9,543.0 232.1,543.0 232.3,543.0 232.5,543.0 232.7,543.0 232.9,543.0 233.1,543.0 233.3,543.0 233.5,543.0 233.7,543.0 233.9,543.0 234.1,543.0 234.3,543.0 234.5,543.0 234.7,543.0 234.9,543.0 235.1,543.0 235.3,543.0 235.5,543.0 235.7,543.0 235.9,543.0 236.1,543.0 236.3,543.0 236.5,543.0 236.7,543.0 236.9,543.0 237.1,543.0 237.3,543.0 237.5,543.0 237.7,543.0 237.9,543.0 238.1,543.0 238.3,543.0 238.5,543.0 238.7,543.0 238.9,543.0 239.1,543.0 239.3,543.0 239.5,543.0 239.7,543.0 239.9,543.0 240.1,543.0 240.3,543.0 240.5,543.0 240.7,543.0 240.9,543.0 241.1,543.0 241.3,543.0 241.5,543.0 241.7,543.0 241.9,543.0 242.1,543.0 242.3,543.0 242.5,543.0 242.7,543.0 242.9,543.0 243.1,543.0 243.3,543.0 243.5,543.0 243.7,543.0 243.9,543.0 244.1,543.0 244.3,543.0 244.5,543.0 244.7,543.0 244.9,543.0 245.1,543.0 245.3,543.0 245.5,543.0 245.7,543.0 245.9,543.0 246.1,543.0 246.3,543.0 246.5,543.0 246.7,543.0 246.9,543.0 247.1,543.0 247.3,543.0 247.5,543.0 247.7,543.0 247.9,543.0 248.1,543.0 248.3,543.0 248.5,543.0 248.7,543.0 248.9,543.0 249.1,543.0 249.3,543.0 249.5,543.0 249.7,543.0 249.9,543.0 250.1,543.0 250.3,543.0 250.5,543.0 250.7,543.0 250.9,543.0 251.1,543.0 251.3,543.0 251.5,543.0 251.7,543.0 251.9,543.0 252.1,543.0 252.3,543.0 252.5,543.0 252.7,543.0 252.9,543.0 253.1,542.9 253.3,542.9 253.5,542.9 253.7,542.8 253.9,542.7 254.1,542.5 254.3,542.4 254.5,542.1 254.7,541.9 254.9,541.6 255.1,541.4 255.3,541.1 255.5,541.0 255.7,541.0 255.9,541.1 256.1,541.3 256.3,541.6 256.5,541.8 256.7,542.1 256.9,542.3 257.1,542.4 257.3,542.5 257.5,542.5 257.7,542.4 257.9,542.3 258.1,542.1 258.3,541.9 258.5,541.6 258.7,541.3 258.9,541.0 259.1,540.9 259.3,540.8 259.5,540.9 259.7,541.1 259.9,541.3 260.1,541.6 260.3,541.9 260.5,542.2 260.7,542.4 260.9,542.6 261.1,542.7 261.3,542.8 261.5,542.9 261.7,542.9 261.9,542.9 262.1,542.9 262.3,543.0 262.5,543.0 262.7,543.0 262.9,543.0 263.1,543.0 263.3,543.0 263.5,543.0 263.7,543.0 263.9,543.0 264.1,543.0 264.3,543.0 264.5,543.0 264.7,543.0 264.9,543.0 265.1,543.0 265.3,543.0 265.5,543.0 265.7,543.0 265.9,543.0 266.1,543.0 266.3,543.0 266.5,543.0 266.7,543.0 266.9,543.0 267.1,543.0 267.3,543.0 267.5,543.0 267.7,543.0 267.9,543.0 268.1,543.0 268.3,543.0 268.5,543.0 268.7,543.0 268.9,543.0 269.1,543.0 269.3,543.0 269.5,543.0 269.7,543.0 269.9,543.0 270.1,543.0 270.3,543.0 270.5,543.0 270.7,543.0 270.9,543.0 271.1,543.0 271.3,543.0 271.5,543.0 271.7,543.0 271.9,543.0 272.1,543.0 272.3,543.0 272.5,543.0 272.7,543.0 272.9,543.0 273.1,543.0 273.3,543.0 273.5,542.9 273.7,542.9 273.9,542.9 274.1,542.9 274.3,542.9 274.5,542.9 274.7,542.8 274.9,542.8 275.1,542.7 275.3,542.6 275.5,542.5 275.7,542.3 275.9,542.1 276.1,541.8 276.3,541.5 276.5,541.3 276.7,541.1 276.9,540.9 277.1,540.9 277.3,541.1 277.5,541.3 277.7,541.5 277.9,541.8 278.1,542.0 278.3,542.2 278.5,542.4 278.7,542.5 278.9,542.6 279.1,542.6 279.3,542.7 279.5,542.7 279.7,542.6 279.9,542.6 280.1,542.5 280.3,542.5 280.5,542.3 280.7,542.2 280.9,542.0 281.1,541.7 281.3,541.4 281.5,541.1 281.7,540.7 281.9,540.2 282.1,539.7 282.3,539.2 282.5,538.8 282.7,538.4 282.9,538.1 283.1,537.9 283.3,537.9 283.5,538.1 283.7,538.4 283.9,538.8 284.1,539.2 284.3,539.7 284.5,540.2 284.7,540.6 284.9,541.0 285.1,541.4 285.3,541.7 285.5,541.9 285.7,542.1 285.9,542.3 286.1,542.4 286.3,542.5 286.5,542.5 286.7,542.6 286.9,542.6 287.1,542.6 287.3,542.6 287.5,542.7 287.7,542.7 287.9,542.7 288.1,542.7 288.3,542.7 288.5,542.6 288.7,542.6 288.9,542.6 289.1,542.6 289.3,542.6 289.5,542.6 289.7,542.6 289.9,542.6 290.1,542.5 290.3,542.5 290.5,542.4 290.7,542.4 290.9,542.3 291.1,542.1 291.3,542.0 291.5,541.8 291.7,541.6 291.9,541.3 292.1,541.1 292.3,540.9 292.5,540.8 292.7,540.7 292.9,540.8 293.1,540.9 293.3,541.0 293.5,541.2 293.7,541.3 293.9,541.4 294.1,541.4 294.3,541.4 294.5,541.4 294.7,541.3 294.9,541.2 295.1,541.0 295.3,540.8 295.5,540.6 295.7,540.2 295.9,539.8 296.1,539.2 296.3,538.4 296.5,537.1 296.7,535.4 296.9,532.8 297.1,529.4 297.3,524.7 297.5,518.8 297.7,511.5 297.9,502.8 298.1,493.3 298.3,483.3 298.5,473.7 298.7,465.6 298.9,460.0 299.1,458.0 299.3,460.0 299.5,465.6 299.7,473.7 299.9,483.3 300.1,493.3 300.3,502.9 300.5,511.5 300.7,518.8 300.9,524.8 301.1,529.4 301.3,532.9 301.5,535.4 301.7,537.1 301.9,538.4 302.1,539.2 302.3,539.8 302.5,540.3 302.7,540.6 302.9,540.9 303.1,541.1 303.3,541.2 303.5,541.4 303.7,541.5 303.9,541.6 304.1,541.7 304.3,541.8 304.5,541.9 304.7,542.0 304.9,542.1 305.1,542.1 305.3,542.2 305.5,542.2 305.7,542.3 305.9,542.3 306.1,542.3 306.3,542.4 306.5,542.4 306.7,542.4 306.9,542.5 307.1,542.5 307.3,542.5 307.5,542.5 307.7,542.6 307.9,542.6 308.1,542.6 308.3,542.6 308.5,542.6 308.7,542.6 308.9,542.6 309.1,542.7 309.3,542.7 309.5,542.7 309.7,542.7 309.9,542.7 310.1,542.7 310.3,542.7 310.5,542.7 310.7,542.7 310.9,542.7 311.1,542.7 311.3,542.7 311.5,542.7 311.7,542.7 311.9,542.7 312.1,542.7 312.3,542.7 312.5,542.7 312.7,542.7 312.9,542.7 313.1,542.7 313.3,542.7 313.5,542.7 313.7,542.7 313.9,542.7 314.1,542.7 314.3,542.6 314.5,542.6 314.7,542.6 314.9,542.6 315.1,542.6 315.3,542.5 315.5,542.5 315.7,542.5 315.9,542.4 316.1,542.3 316.3,542.2 316.5,542.0 316.7,541.8 316.9,541.4 317.1,540.8 317.3,540.0 317.5,539.0 317.7,537.7 317.9,536.1 318.1,534.3 318.3,532.5 318.5,530.8 318.7,529.4 318.9,528.6 319.1,528.6 319.3,529.4 319.5,530.7 319.7,532.5 319.9,534.3 320.1,536.0 320.3,537.6 320.5,538.9 320.7,539.9 320.9,540.7 321.1,541.2 321.3,541.6 321.5,541.8 321.7,542.0 321.9,542.1 322.1,542.2 322.3,542.2 322.5,542.2 322.7,542.2 322.9,542.2 323.1,542.2 323.3,542.2 323.5,542.2 323.7,542.2 323.9,542.1 324.1,542.1 324.3,542.1 324.5,542.0 324.7,541.9 324.9,541.9 325.1,541.8 325.3,541.6 325.5,541.5 325.7,541.3 325.9,541.0 326.1,540.7 326.3,540.2 326.5,539.4 326.7,538.3 326.9,536.7 327.1,534.5 327.3,531.4 327.5,527.5 327.7,522.6 327.9,517.0 328.1,510.8 328.3,504.4 328.5,498.5 328.7,493.9 328.9,491.3 329.1,491.3 329.3,493.9 329.5,498.5 329.7,504.4 329.9,510.8 330.1,517.0 330.3,522.7 330.5,527.5 330.7,531.5 330.9,534.5 331.1,536.7 331.3,538.4 331.5,539.5 331.7,540.2 331.9,540.8 332.1,541.1 332.3,541.4 332.5,541.6 332.7,541.7 332.9,541.9 333.1,542.0 333.3,542.1 333.5,542.1 333.7,542.2 333.9,542.3 334.1,542.3 334.3,542.4 334.5,542.4 334.7,542.5 334.9,542.5 335.1,542.5 335.3,542.6 335.5,542.6 335.7,542.6 335.9,542.6 336.1,542.7 336.3,542.7 336.5,542.7 336.7,542.7 336.9,542.7 337.1,542.8 337.3,542.8 337.5,542.8 337.7,542.8 337.9,542.8 338.1,542.8 338.3,542.8 338.5,542.8 338.7,542.8 338.9,542.8 339.1,542.9 339.3,542.9 339.5,542.9 339.7,542.9 339.9,542.9 340.1,542.9 340.3,542.9 340.5,542.9 340.7,542.9 340.9,542.9 341.1,542.9 341.3,542.9 341.5,542.9 341.7,542.9 341.9,542.9 342.1,542.9 342.3,542.9 342.5,542.9 342.7,542.9 342.9,542.9 343.1,542.9 343.3,542.9 343.5,542.9 343.7,542.9 343.9,542.9 344.1,542.9 344.3,542.9 344.5,542.9 344.7,542.9 344.9,542.9 345.1,542.9 345.3,542.9 345.5,542.9 345.7,542.9 345.9,542.9 346.1,542.9 346.3,542.9 346.5,542.9 346.7,542.9 346.9,542.9 347.1,542.9 347.3,542.9 347.5,542.9 347.7,542.9 347.9,542.9 348.1,542.8 348.3,542.8 348.5,542.7 348.7,542.6 348.9,542.4 349.1,542.2 349.3,542.0 349.5,541.7 349.7,541.4 349.9,541.2 350.1,541.0 350.3,541.0 350.5,541.0 350.7,541.2 350.9,541.4 351.1,541.7 351.3,542.0 351.5,542.2 351.7,542.4 351.9,542.5 352.1,542.7 352.3,542.7 352.5,542.8 352.7,542.8 352.9,542.8 353.1,542.8 353.3,542.7 353.5,542.7 353.7,542.6 353.9,542.5 354.1,542.4 354.3,542.2 354.5,542.1 354.7,542.0 354.9,541.9 355.1,541.9 355.3,542.0 355.5,542.1 355.7,542.2 355.9,542.3 356.1,542.5 356.3,542.6 356.5,542.7 356.7,542.7 356.9,542.8 357.1,542.8 357.3,542.8 357.5,542.8 357.7,542.8 357.9,542.8 358.1,542.8 358.3,542.8 358.5,542.7 358.7,542.7 358.9,542.7 359.1,542.7 359.3,542.6 359.5,542.6 359.7,542.5 359.9,542.4 360.1,542.3 360.3,542.2 360.5,542.0 360.7,541.6 360.9,541.2 361.1,540.5 361.3,539.7 361.5,538.6 361.7,537.3 361.9,535.7 362.1,534.0 362.3,532.1 362.5,530.4 362.7,528.9 362.9,527.9 363.1,527.5 363.3,527.9 363.5,528.9 363.7,530.4 363.9,532.1 364.1,534.0 364.3,535.7 364.5,537.3 364.7,538.6 364.9,539.7 365.1,540.5 365.3,541.2 365.5,541.6 365.7,542.0 365.9,542.2 366.1,542.3 366.3,542.5 366.5,542.5 366.7,542.6 366.9,542.6 367.1,542.7 367.3,542.7 367.5,542.7 367.7,542.8 367.9,542.8 368.1,542.8 368.3,542.8 368.5,542.8 368.7,542.8 368.9,542.9 369.1,542.9 369.3,542.9 369.5,542.9 369.7,542.9 369.9,542.9 370.1,542.9 370.3,542.9 370.5,542.9 370.7,542.9 370.9,542.9 371.1,542.9 371.3,542.9 371.5,542.9 371.7,542.9 371.9,542.9 372.1,542.9 372.3,542.9 372.5,542.9 372.7,542.9 372.9,542.9 373.1,543.0 373.3,543.0 373.5,543.0 373.7,543.0 373.9,543.0 374.1,543.0 374.3,542.9 374.5,542.9 374.7,542.9 374.9,542.9 375.1,542.9 375.3,542.9 375.5,542.9 375.7,542.9 375.9,542.9 376.1,542.9 376.3,542.9 376.5,542.9 376.7,542.9 376.9,542.9 377.1,542.9 377.3,542.9 377.5,542.9 377.7,542.9 377.9,542.9 378.1,542.9 378.3,542.9 378.5,542.9 378.7,542.8 378.9,542.8 379.1,542.8 379.3,542.8 379.5,542.8 379.7,542.8 379.9,542.7 380.1,542.7 380.3,542.7 380.5,542.7 380.7,542.6 380.9,542.6 381.1,542.5 381.3,542.4 381.5,542.3 381.7,542.1 381.9,541.8 382.1,541.4 382.3,540.9 382.5,540.1 382.7,539.2 382.9,538.0 383.1,536.5 383.3,534.8 383.5,533.0 383.7,531.2 383.9,529.6 384.1,528.3 384.3,527.6 384.5,527.6 384.7,528.3 384.9,529.6 385.1,531.2 385.3,533.0 385.5,534.8 385.7,536.5 385.9,538.0 386.1,539.2 386.3,540.1 386.5,540.9 386.7,541.4 386.9,541.8 387.1,542.1 387.3,542.2 387.5,542.4 387.7,542.5 387.9,542.5 388.1,542.6 388.3,542.6 388.5,542.6 388.7,542.7 388.9,542.7 389.1,542.7 389.3,542.7 389.5,542.7 389.7,542.8 389.9,542.8 390.1,542.8 390.3,542.8 390.5,542.8 390.7,542.8 390.9,542.8 391.1,542.8 391.3,542.8 391.5,542.8 391.7,542.8 391.9,542.8 392.1,542.8 392.3,542.8 392.5,542.8 392.7,542.8 392.9,542.8 393.1,542.8 393.3,542.8 393.5,542.7 393.7,542.7 393.9,542.7 394.1,542.7 394.3,542.7 394.5,542.6 394.7,542.6 394.9,542.5 395.1,542.4 395.3,542.2 395.5,542.0 395.7,541.7 395.9,541.3 396.1,540.9 396.3,540.5 396.5,540.1 396.7,539.7 396.9,539.5 397.1,539.4 397.3,539.6 397.5,539.8 397.7,540.1 397.9,540.4 398.1,540.7 398.3,540.8 398.5,540.9 398.7,540.8 398.9,540.4 399.1,539.9 399.3,539.0 399.5,537.7 399.7,535.9 399.9,533.7 400.1,530.9 400.3,527.6 400.5,524.0 400.7,520.2 400.9,516.5 401.1,513.4 401.3,511.3 401.5,510.5 401.7,511.3 401.9,513.4 402.1,516.5 402.3,520.2 402.5,524.0 402.7,527.7 402.9,531.0 403.1,533.8 403.3,536.1 403.5,537.8 403.7,539.2 403.9,540.1 404.1,540.8 404.3,541.3 404.5,541.6 404.7,541.8 404.9,542.0 405.1,542.1 405.3,542.2 405.5,542.3 405.7,542.4 405.9,542.4 406.1,542.5 406.3,542.5 406.5,542.6 406.7,542.6 406.9,542.6 407.1,542.7 407.3,542.7 407.5,542.7 407.7,542.7 407.9,542.8 408.1,542.8 408.3,542.8 408.5,542.8 408.7,542.8 408.9,542.8 409.1,542.9 409.3,542.9 409.5,542.9 409.7,542.9 409.9,542.9 410.1,542.9 410.3,542.9 410.5,542.9 410.7,542.9 410.9,542.9 411.1,542.9 411.3,542.9 411.5,542.9 411.7,543.0 411.9,543.0 412.1,543.0 412.3,543.0 412.5,543.0 412.7,543.0 412.9,543.0 413.1,543.0 413.3,543.0 413.5,543.0 413.7,543.0 413.9,543.0 414.1,543.0 414.3,543.0 414.5,543.0 414.7,543.0 414.9,543.0 415.1,543.0 415.3,543.0 415.5,543.0 415.7,543.0 415.9,543.0 416.1,543.0 416.3,543.0 416.5,543.0 416.7,543.0 416.9,543.0 417.1,543.0 417.3,543.0 417.5,543.0 417.7,543.0 417.9,543.0 418.1,543.0 418.3,543.0 418.5,543.0 418.7,543.0 418.9,543.0 419.1,543.0 419.3,543.0 419.5,543.0 419.7,543.0 419.9,543.0 420.1,543.0 420.3,543.0 420.5,543.0 420.7,543.0 420.9,543.0 421.1,543.0 421.3,543.0 421.5,543.0 421.7,543.0 421.9,543.0 422.1,543.0 422.3,543.0 422.5,543.1 422.7,543.1 422.9,543.1 423.1,543.1 423.3,543.1 423.5,543.1 423.7,543.1 423.9,543.1 424.1,543.1 424.3,543.1 424.5,543.1 424.7,543.1 424.9,543.1 425.1,543.1 425.3,543.1 425.5,543.1 425.7,543.1 425.9,543.1 426.1,543.1 426.3,543.1 426.5,543.1 426.7,543.1 426.9,543.1 427.1,543.1 427.3,543.1 427.5,543.1 427.7,543.1 427.9,543.1 428.1,543.1 428.3,543.1 428.5,543.1 428.7,543.1 428.9,543.1 429.1,543.1 429.3,543.1 429.5,543.1 429.7,543.1 429.9,543.1 430.1,543.1 430.3,543.1 430.5,543.1 430.7,543.1 430.9,543.1 431.1,543.1 431.3,543.1 431.5,543.1 431.7,543.1 431.9,543.1 432.1,543.1 432.3,543.1 432.5,543.1 432.7,543.1 432.9,543.1 433.1,543.1 433.3,543.1 433.5,543.1 433.7,543.1 433.9,543.1 434.1,543.1 434.3,543.1 434.5,543.1 434.7,543.1 434.9,543.1 435.1,543.1 435.3,543.1 435.5,543.1 435.7,543.1 435.9,543.1 436.1,543.1 436.3,543.1 436.5,543.1 436.7,543.1 436.9,543.1 437.1,543.1 437.3,543.1 437.5,543.1 437.7,543.1 437.9,543.1 438.1,543.1 438.3,543.1 438.5,543.1 438.7,543.1 438.9,543.1 439.1,543.1 439.3,543.1 439.5,543.1 439.7,543.1 439.9,543.1 440.1,543.1 440.3,543.1 440.5,543.1 440.7,543.1 440.9,543.1 441.1,543.1 441.3,543.1 441.5,543.1 441.7,543.1 441.9,543.1 442.1,543.1 442.3,543.1 442.5,543.1 442.7,543.1 442.9,543.1 443.1,543.1 443.3,543.1 443.5,543.1 443.7,543.1 443.9,543.1 444.1,543.1 444.3,543.1 444.5,543.1 444.7,543.1 444.9,543.1 445.1,543.1 445.3,543.1 445.5,543.1 445.7,543.1 445.9,543.1 446.1,543.1 446.3,543.1 446.5,543.1 446.7,543.1 446.9,543.1 447.1,543.1 447.3,543.1 447.5,543.1 447.7,543.0 447.9,543.0 448.1,543.0 448.3,543.0 448.5,543.0 448.7,543.0 448.9,543.0 449.1,543.0 449.3,543.0 449.5,543.0 449.7,543.0 449.9,543.0 450.1,543.0 450.3,543.0 450.5,543.0 450.7,543.0 450.9,543.0 451.1,543.0 451.3,543.0 451.5,543.0 451.7,543.0 451.9,543.0 452.1,543.0 452.3,543.0 452.5,543.0 452.7,543.0 452.9,543.0 453.1,543.0 453.3,543.0 453.5,543.0 453.7,543.0 453.9,543.0 454.1,542.9 454.3,542.9 454.5,542.9 454.7,542.9 454.9,542.9 455.1,542.9 455.3,542.9 455.5,542.9 455.7,542.8 455.9,542.8 456.1,542.8 456.3,542.7 456.5,542.7 456.7,542.6 456.9,542.5 457.1,542.4 457.3,542.2 457.5,541.9 457.7,541.5 457.9,540.9 458.1,540.2 458.3,539.3 458.5,538.2 458.7,537.1 458.9,535.9 459.1,534.8 459.3,533.9 459.5,533.4 459.7,533.4 459.9,533.8 460.1,534.5 460.3,535.3 460.5,536.2 460.7,537.0 460.9,537.6 461.1,538.0 461.3,538.2 461.5,538.2 461.7,538.2 461.9,538.3 462.1,538.5 462.3,538.8 462.5,539.3 462.7,539.9 462.9,540.5 463.1,541.1 463.3,541.5 463.5,541.9 463.7,542.2 463.9,542.4 464.1,542.6 464.3,542.7 464.5,542.7 464.7,542.8 464.9,542.8 465.1,542.8 465.3,542.9 465.5,542.9 465.7,542.9 465.9,542.9 466.1,542.9 466.3,542.9 466.5,542.9 466.7,542.9 466.9,543.0 467.1,543.0 467.3,543.0 467.5,543.0 467.7,543.0 467.9,543.0 468.1,543.0 468.3,543.0 468.5,543.0 468.7,543.0 468.9,543.0 469.1,543.0 469.3,543.0 469.5,543.0 469.7,543.0 469.9,543.0 470.1,543.0 470.3,543.0 470.5,543.0 470.7,543.0 470.9,543.0 471.1,543.0 471.3,543.0 471.5,543.0 471.7,543.0 471.9,543.0 472.1,543.0 472.3,543.0 472.5,543.0 472.7,543.0 472.9,543.0 473.1,543.0 473.3,543.0 473.5,543.0 473.7,543.0 473.9,543.0 474.1,543.0 474.3,543.0 474.5,543.0 474.7,543.0 474.9,543.0 475.1,542.9 475.3,542.9 475.5,542.9 475.7,542.9 475.9,542.9 476.1,542.9 476.3,542.9 476.5,542.9 476.7,542.9 476.9,542.9 477.1,542.8 477.3,542.8 477.5,542.8 477.7,542.8 477.9,542.7 478.1,542.7 478.3,542.6 478.5,542.5 478.7,542.4 478.9,542.2 479.1,542.0 479.3,541.7 479.5,541.2 479.7,540.5 479.9,539.7 480.1,538.7 480.3,537.5 480.5,536.2 480.7,534.8 480.9,533.4 481.1,532.3 481.3,531.5 481.5,531.3 481.7,531.5 481.9,532.3 482.1,533.4 482.3,534.8 482.5,536.2 482.7,537.5 482.9,538.7 483.1,539.7 483.3,540.5 483.5,541.2 483.7,541.6 483.9,542.0 484.1,542.2 484.3,542.4 484.5,542.5 484.7,542.6 484.9,542.7 485.1,542.7 485.3,542.8 485.5,542.8 485.7,542.8 485.9,542.8 486.1,542.8 486.3,542.9 486.5,542.9 486.7,542.9 486.9,542.9 487.1,542.9 487.3,542.9 487.5,542.9 487.7,542.9 487.9,542.9 488.1,542.9 488.3,543.0 488.5,543.0 488.7,543.0 488.9,543.0 489.1,543.0 489.3,543.0 489.5,543.0 489.7,543.0 489.9,543.0 490.1,543.0 490.3,543.0 490.5,543.0 490.7,543.0 490.9,543.0 491.1,543.0 491.3,543.0 491.5,543.0 491.7,543.0 491.9,543.0 492.1,543.0 492.3,543.0 492.5,543.0 492.7,543.0 492.9,543.0 493.1,543.0 493.3,543.0 493.5,542.9 493.7,542.9 493.9,542.9 494.1,542.9 494.3,542.9 494.5,542.9 494.7,542.9 494.9,542.9 495.1,542.9 495.3,542.9 495.5,542.8 495.7,542.8 495.9,542.8 496.1,542.7 496.3,542.6 496.5,542.5 496.7,542.3 496.9,542.0 497.1,541.6 497.3,541.2 497.5,540.6 497.7,540.1 497.9,539.6 498.1,539.1 498.3,538.9 498.5,538.9 498.7,539.1 498.9,539.5 499.1,540.0 499.3,540.5 499.5,541.0 499.7,541.4 499.9,541.7 500.1,541.9 500.3,542.0 500.5,542.0 500.7,541.9 500.9,541.7 501.1,541.4 501.3,540.9 501.5,540.2 501.7,539.3 501.9,538.2 502.1,536.8 502.3,535.2 502.5,533.5 502.7,531.8 502.9,530.2 503.1,529.0 503.3,528.3 503.5,528.3 503.7,529.0 503.9,530.2 504.1,531.8 504.3,533.5 504.5,535.2 504.7,536.8 504.9,538.2 505.1,539.4 505.3,540.3 505.5,541.0 505.7,541.5 505.9,541.9 506.1,542.2 506.3,542.3 506.5,542.5 506.7,542.5 506.9,542.6 507.1,542.7 507.3,542.7 507.5,542.7 507.7,542.8 507.9,542.8 508.1,542.8 508.3,542.8 508.5,542.9 508.7,542.9 508.9,542.9 509.1,542.9 509.3,542.9 509.5,542.9 509.7,542.9 509.9,542.9 510.1,542.9 510.3,543.0 510.5,543.0 510.7,543.0 510.9,543.0 511.1,543.0 511.3,543.0 511.5,543.0 511.7,543.0 511.9,543.0 512.1,543.0 512.3,543.0 512.5,543.0 512.7,543.0 512.9,543.0 513.1,543.0 513.3,543.0 513.5,543.0 513.7,543.0 513.9,543.0 514.1,543.0 514.3,543.0 514.5,543.0 514.7,543.0 514.9,543.0 515.1,543.0 515.3,543.0 515.5,543.0 515.7,543.0 515.9,543.0 516.1,543.0 516.3,543.0 516.5,543.0 516.7,543.0 516.9,543.0 517.1,543.0 517.3,543.0 517.5,543.0 517.7,543.0 517.9,543.0 518.1,543.0 518.3,543.0 518.5,543.0 518.7,543.1 518.9,543.1 519.1,543.1 519.3,543.1 519.5,543.1 519.7,543.1 519.9,543.1 520.1,543.1 520.3,543.1 520.5,543.1 520.7,543.0 520.9,543.0 521.1,543.0 521.3,543.0 521.5,543.0 521.7,543.0 521.9,543.0 522.1,543.0 522.3,543.0 522.5,543.0 522.7,543.0 522.9,543.0 523.1,543.0 523.3,543.0 523.5,543.0 523.7,542.9 523.9,542.9 524.1,542.8 524.3,542.7 524.5,542.6 524.7,542.5 524.9,542.4 525.1,542.2 525.3,542.1 525.5,542.1 525.7,542.1 525.9,542.1 526.1,542.2 526.3,542.4 526.5,542.5 526.7,542.6 526.9,542.7 527.1,542.8 527.3,542.9 527.5,542.9 527.7,543.0 527.9,543.0 528.1,543.0 528.3,543.0 528.5,543.0 528.7,543.0 528.9,543.0 529.1,543.0 529.3,543.0 529.5,543.1 529.7,543.1 529.9,543.1 530.1,543.1 530.3,543.1 530.5,543.1 530.7,543.1 530.9,543.1 531.1,543.1 531.3,543.1 531.5,543.1 531.7,543.1 531.9,543.1 532.1,543.1 532.3,543.1 532.5,543.1 532.7,543.1 532.9,543.1 533.1,543.1 533.3,543.1 533.5,543.1 533.7,543.1 533.9,543.1 534.1,543.1 534.3,543.1 534.5,543.1 534.7,543.1 534.9,543.1 535.1,543.1 535.3,543.1 535.5,543.1 535.7,543.1 535.9,543.1 536.1,543.1 536.3,543.1 536.5,543.1 536.7,543.1 536.9,543.1 537.1,543.1 537.3,543.1 537.5,543.1 537.7,543.1 537.9,543.1 538.1,543.1 538.3,543.1 538.5,543.1 538.7,543.1 538.9,543.0 539.1,543.0 539.3,543.0 539.5,543.0 539.7,543.0 539.9,543.0 540.1,543.0 540.3,543.0 540.5,543.0 540.7,543.0 540.9,543.0 541.1,543.0 541.3,543.0 541.5,543.0 541.7,543.0 541.9,543.0 542.1,543.0 542.3,543.0 542.5,543.0 542.7,543.0 542.9,543.0 543.1,543.0 543.3,543.0 543.5,543.0 543.7,543.0 543.9,543.0 544.1,543.0 544.3,543.0 544.5,543.0 544.7,543.0 544.9,543.0 545.1,543.0 545.3,542.9 545.5,542.9 545.7,542.9 545.9,542.9 546.1,542.9 546.3,542.9 546.5,542.9 546.7,542.8 546.9,542.8 547.1,542.8 547.3,542.7 547.5,542.7 547.7,542.6 547.9,542.4 548.1,542.2 548.3,542.0 548.5,541.6 548.7,541.1 548.9,540.5 549.1,539.7 549.3,538.8 549.5,537.8 549.7,536.7 549.9,535.7 550.1,534.8 550.3,534.2 550.5,534.0 550.7,534.2 550.9,534.8 551.1,535.7 551.3,536.7 551.5,537.7 551.7,538.8 551.9,539.7 552.1,540.4 552.3,541.1 552.5,541.5 552.7,541.9 552.9,542.1 553.1,542.3 553.3,542.4 553.5,542.5 553.7,542.6 553.9,542.6 554.1,542.6 554.3,542.6 554.5,542.6 554.7,542.5 554.9,542.4 555.1,542.3 555.3,542.1 555.5,541.8 555.7,541.5 555.9,541.0 556.1,540.4 556.3,539.7 556.5,538.9 556.7,538.1 556.9,537.3 557.1,536.6 557.3,536.2 557.5,536.0 557.7,536.2 557.9,536.6 558.1,537.3 558.3,538.1 558.5,538.9 558.7,539.7 558.9,540.4 559.1,541.0 559.3,541.5 559.5,541.9 559.7,542.2 559.9,542.4 560.1,542.6 560.3,542.7 560.5,542.7 560.7,542.8 560.9,542.8 561.1,542.8 561.3,542.9 561.5,542.9 561.7,542.9 561.9,542.9 562.1,542.9 562.3,542.9 562.5,542.9 562.7,543.0 562.9,543.0 563.1,543.0 563.3,543.0 563.5,543.0 563.7,543.0 563.9,543.0 564.1,543.0 564.3,543.0 564.5,543.0 564.7,543.0 564.9,543.0 565.1,543.0 565.3,543.0 565.5,543.0 565.7,543.0 565.9,543.0 566.1,543.0 566.3,543.0 566.5,543.0 566.7,543.0 566.9,543.0 567.1,543.0 567.3,543.0 567.5,543.0 567.7,543.0 567.9,543.0 568.1,543.0 568.3,543.0 568.5,543.0 568.7,543.0 568.9,543.0 569.1,543.0 569.3,543.0 569.5,543.0 569.7,543.0 569.9,543.0 570.1,543.0 570.3,543.0 570.5,543.0 570.7,543.0 570.9,543.0 571.1,543.0 571.3,543.0 571.5,543.0 571.7,543.0 571.9,543.0 572.1,542.9 572.3,542.9 572.5,542.9 572.7,542.9 572.9,542.9 573.1,542.9 573.3,542.9 573.5,542.9 573.7,542.8 573.9,542.8 574.1,542.7 574.3,542.7 574.5,542.6 574.7,542.4 574.9,542.2 575.1,541.9 575.3,541.4 575.5,540.8 575.7,540.1 575.9,539.3 576.1,538.4 576.3,537.5 576.5,536.8 576.7,536.4 576.9,536.4 577.1,536.7 577.3,537.3 577.5,538.0 577.7,538.7 577.9,539.3 578.1,539.6 578.3,539.7 578.5,539.5 578.7,539.0 578.9,538.4 579.1,537.7 579.3,537.0 579.5,536.5 579.7,536.3 579.9,536.6 580.1,537.2 580.3,537.9 580.5,538.8 580.7,539.7 580.9,540.5 581.1,541.1 581.3,541.7 581.5,542.0 581.7,542.3 581.9,542.5 582.1,542.6 582.3,542.7 582.5,542.8 582.7,542.8 582.9,542.8 583.1,542.9 583.3,542.9 583.5,542.9 583.7,542.9 583.9,542.9 584.1,542.9 584.3,542.9 584.5,542.9 584.7,543.0 584.9,543.0 585.1,543.0 585.3,543.0 585.5,543.0 585.7,543.0 585.9,543.0 586.1,543.0 586.3,543.0 586.5,543.0 586.7,543.0 586.9,543.0 587.1,543.0 587.3,543.0 587.5,543.0 587.7,543.0 587.9,543.0 588.1,543.0 588.3,543.0 588.5,543.0 588.7,543.0 588.9,543.0 589.1,543.0 589.3,543.0 589.5,543.0 589.7,543.0 589.9,543.0 590.1,543.0 590.3,543.0 590.5,543.0 590.7,543.0 590.9,543.0 591.1,543.0 591.3,542.9 591.5,542.9 591.7,542.9 591.9,542.9 592.1,542.9 592.3,542.9 592.5,542.9 592.7,542.9 592.9,542.9 593.1,542.8 593.3,542.8 593.5,542.8 593.7,542.7 593.9,542.7 594.1,542.6 594.3,542.5 594.5,542.2 594.7,541.9 594.9,541.5 595.1,540.8 595.3,540.0 595.5,539.1 595.7,538.1 595.9,537.1 596.1,536.4 596.3,536.1 596.5,536.2 596.7,536.6 596.9,537.1 597.1,537.6 597.3,537.8 597.5,537.6 597.7,537.1 597.9,536.4 598.1,535.6 598.3,535.0 598.5,534.6 598.7,534.8 598.9,535.2 599.1,535.7 599.3,536.1 599.5,536.2 599.7,536.0 599.9,535.6 600.1,535.0 600.3,534.5 600.5,534.5 600.7,534.9 600.9,535.8 601.1,537.0 601.3,538.2 601.5,539.4 601.7,540.4 601.9,541.1 602.1,541.7 602.3,542.1 602.5,542.4 602.7,542.5 602.9,542.6 603.1,542.7 603.3,542.7 603.5,542.8 603.7,542.8 603.9,542.8 604.1,542.9 604.3,542.9 604.5,542.9 604.7,542.9 604.9,542.9 605.1,542.9 605.3,542.9 605.5,543.0 605.7,543.0 605.9,543.0 606.1,543.0 606.3,543.0 606.5,543.0 606.7,543.0 606.9,543.0 607.1,543.0 607.3,543.0 607.5,543.0 607.7,543.0 607.9,543.0 608.1,543.0 608.3,543.0 608.5,543.0 608.7,543.0 608.9,543.0 609.1,543.0 609.3,543.0 609.5,543.0 609.7,543.0 609.9,543.0 610.1,543.0 610.3,543.1 610.5,543.1 610.7,543.1 610.9,543.1 611.1,543.1 611.3,543.1 611.5,543.1 611.7,543.1 611.9,543.1 612.1,543.1 612.3,543.1 612.5,543.1 612.7,543.1 612.9,543.1 613.1,543.1 613.3,543.1 613.5,543.1 613.7,543.1 613.9,543.1 614.1,543.1 614.3,543.1 614.5,543.1 614.7,543.1 614.9,543.1 615.1,543.1 615.3,543.1 615.5,543.1 615.7,543.1 615.9,543.1 616.1,543.1 616.3,543.1 616.5,543.1 616.7,543.1 616.9,543.1 617.1,543.1 617.3,543.1 617.5,543.1 617.7,543.1 617.9,543.1 618.1,543.1 618.3,543.1 618.5,543.1 618.7,543.1 618.9,543.1"/>
<rect x="56.5" y="2.9" width="562.5" height="548.1" fill="none" stroke="#000" stroke-width="2.1"/>
<path d="M56.5,551.0v10.8M82.1,2.9v5.4M82.1,551.0v5.4M107.6,2.9v10.4M107.6,551.0v10.8M133.2,2.9v5.4M133.2,551.0v5.4M158.8,2.9v10.4M158.8,551.0v10.8M184.3,2.9v5.4M184.3,551.0v5.4M209.9,2.9v10.4M209.9,551.0v10.8M235.5,2.9v5.4M235.5,551.0v5.4M261.0,2.9v10.4M261.0,551.0v10.8M286.6,2.9v5.4M286.6,551.0v5.4M312.2,2.9v10.4M312.2,551.0v10.8M337.8,2.9v5.4M337.8,551.0v5.4M363.3,2.9v10.4M363.3,551.0v10.8M388.9,2.9v5.4M388.9,551.0v5.4M414.5,2.9v10.4M414.5,551.0v10.8M440.0,2.9v5.4M440.0,551.0v5.4M465.6,2.9v10.4M465.6,551.0v10.8M491.2,2.9v5.4M491.2,551.0v5.4M516.7,2.9v10.4M516.7,551.0v10.8M542.3,2.9v5.4M542.3,551.0v5.4M567.9,2.9v10.4M567.9,551.0v10.8M593.4,2.9v5.4M593.4,551.0v5.4M619.0,551.0v10.8M56.5,33.2h5.4M619.0,33.2h-4.9M56.5,67.0h10.4M619.0,67.0h-10.4M56.5,100.8h5.4M619.0,100.8h-4.9M56.5,134.5h10.4M619.0,134.5h-10.4M56.5,168.3h5.4M619.0,168.3h-4.9M56.5,202.1h10.4M619.0,202.1h-10.4M56.5,235.9h5.4M619.0,235.9h-4.9M56.5,516.5h5.4M619.0,516.5h-4.9M56.5,482.0h10.4M619.0,482.0h-10.4M56.5,447.5h5.4M619.0,447.5h-4.9M56.5,413.0h10.4M619.0,413.0h-10.4M56.5,378.5h5.4M619.0,378.5h-4.9M56.5,344.0h10.4M619.0,344.0h-10.4M56.5,309.5h5.4M619.0,309.5h-4.9" stroke="#000" stroke-width="1.8" fill="none"/>
<text x="56.5" y="587.3" font-size="23.4" text-anchor="middle">10</text>
<text x="107.6" y="587.3" font-size="23.4" text-anchor="middle">15</text>
<text x="158.8" y="587.3" font-size="23.4" text-anchor="middle">20</text>
<text x="209.9" y="587.3" font-size="23.4" text-anchor="middle">25</text>
<text x="261.0" y="587.3" font-size="23.4" text-anchor="middle">30</text>
<text x="312.2" y="587.3" font-size="23.4" text-anchor="middle">35</text>
<text x="363.3" y="587.3" font-size="23.4" text-anchor="middle">40</text>
<text x="414.5" y="587.3" font-size="23.4" text-anchor="middle">45</text>
<text x="465.6" y="587.3" font-size="23.4" text-anchor="middle">50</text>
<text x="516.7" y="587.3" font-size="23.4" text-anchor="middle">55</text>
<text x="567.9" y="587.3" font-size="23.4" text-anchor="middle">60</text>
<text x="619.0" y="587.3" font-size="23.4" text-anchor="middle">65</text>
<text x="224.4" y="628" font-size="27.5" font-weight="bold" textLength="225.7" lengthAdjust="spacingAndGlyphs">2 Theta (Degree)</text>
<text transform="translate(41.6,385.4) rotate(-90)" font-size="27" font-weight="bold" textLength="194.5" lengthAdjust="spacingAndGlyphs">Inensity (a. u.)</text>
<text x="192.8" y="44.6" font-size="28" textLength="91.5" lengthAdjust="spacingAndGlyphs">g-C<tspan font-size="17.5" dy="8.3">3</tspan><tspan dy="-8.3">N</tspan><tspan font-size="17.5" dy="8.3">4</tspan></text>
<path d="M234.5,217V80" stroke="#000" stroke-width="0.85" fill="none"/>
<path d="M234.4,68.6l3.9,13.8h-7.8z" fill="#000"/>
<text x="99.3" y="52.8" font-family="'Liberation Serif', 'Times New Roman', serif" font-weight="bold" font-size="21.5">b</text>
<path d="M303,95.2H366" stroke="#0000ff" stroke-width="0.9"/>
<text x="377" y="103.8" font-size="27.5" textLength="224" lengthAdjust="spacingAndGlyphs">MSN/g-C<tspan font-size="18" dy="8">3</tspan><tspan dy="-8">N</tspan><tspan font-size="18" dy="8">4</tspan><tspan dy="-8">/CNH</tspan></text>
<path d="M303,381.5H366" stroke="#ff0000" stroke-width="0.9"/>
<text x="375.3" y="391.2" font-size="27.5" textLength="197.5" lengthAdjust="spacingAndGlyphs">Simulated CNH</text>
</g>
<g font-family="'Liberation Serif', 'Times New Roman', serif" font-weight="bold" fill="#000">
<path fill="none" stroke="#ff0000" stroke-width="1.15" d="M84.5,882.9V945.3M85.5,885.9V926.5M86.5,886.5V917.9M87.5,867.4V930.8M88.5,891.7V944.5M89.5,864.1V932.1M90.5,885.3V937.7M91.5,886.8V940.2M92.5,882.1V960.6M93.5,888.4V941.8M94.5,891.3V928.6M95.5,902.3V936.8M96.5,868.8V932.9M97.5,868.8V933.8M98.5,897.9V942.3M99.5,886.3V942.5M100.5,899.5V947.6M101.5,899.9V953.9M102.5,904.7V935.8M103.5,901.7V935.3M104.5,891.7V935.7M105.5,909.9V948.1M106.5,900.8V962.2M107.5,910.8V946.9M108.5,881.8V952.5M109.5,900.7V961.0M110.5,904.7V973.3M111.5,898.0V959.4M112.5,888.2V958.7M113.5,903.7V946.7M114.5,906.0V937.4M115.5,903.2V969.3M116.5,884.4V949.0M117.5,878.7V948.5M118.5,887.6V948.6M119.5,883.1V938.7M120.5,892.9V934.3M121.5,894.8V927.8M122.5,876.3V959.4M123.5,886.5V941.9M124.5,884.0V934.6M125.5,852.8V919.0M126.5,865.0V916.1M127.5,864.6V927.4M128.5,861.5V908.4M129.5,863.2V902.1M130.5,875.2V933.9M131.5,851.5V901.6M132.5,859.6V922.9M133.5,862.3V907.0M134.5,855.2V905.5M135.5,858.9V880.3M136.5,835.4V926.4M137.5,819.3V911.5M138.5,842.1V901.6M139.5,841.5V892.6M140.5,839.1V887.2M141.5,818.2V913.4M142.5,819.0V883.3M143.5,828.9V880.4M144.5,838.3V886.0M145.5,813.1V865.4M146.5,805.1V871.5M147.5,822.7V885.7M148.5,816.2V867.3M149.5,821.5V874.1M150.5,804.6V875.4M151.5,804.6V871.8M152.5,793.8V861.7M153.5,794.8V860.9M154.5,794.8V859.3M155.5,792.8V837.2M156.5,789.0V831.6M157.5,781.5V838.4M158.5,781.5V870.6M159.5,771.8V844.0M160.5,767.2V837.5M161.5,744.1V824.9M162.5,778.3V830.5M163.5,767.6V816.5M164.5,764.1V839.5M165.5,769.7V817.5M166.5,758.5V807.8M167.5,762.1V822.9M168.5,762.6V814.9M169.5,749.2V800.7M170.5,767.9V812.1M171.5,746.3V819.8M172.5,743.8V812.8M173.5,751.7V819.4M174.5,745.6V821.9M175.5,743.9V800.3M176.5,736.8V805.1M177.5,737.6V823.5M178.5,735.6V823.5M179.5,724.1V784.9M180.5,744.1V809.9M181.5,743.0V807.1M182.5,720.3V787.8M183.5,726.9V824.6M184.5,728.1V802.0M185.5,713.0V774.7M186.5,702.0V800.8M187.5,734.8V793.6M188.5,730.2V793.8M189.5,738.2V802.1M190.5,739.1V800.8M191.5,738.2V789.8M192.5,739.1V793.5M193.5,761.7V815.6M194.5,731.7V805.8M195.5,757.3V843.1M196.5,744.2V813.2M197.5,758.8V810.0M198.5,767.7V814.6M199.5,768.6V814.6M200.5,774.3V830.1M201.5,783.2V835.0M202.5,770.1V841.2M203.5,768.5V841.2M204.5,784.9V844.2M205.5,793.2V846.3M206.5,784.0V865.8M207.5,801.6V853.5M208.5,801.9V885.1M209.5,802.6V865.0M210.5,807.8V865.5M211.5,811.5V865.4M212.5,818.2V900.0M213.5,805.2V859.7M214.5,814.7V881.1M215.5,829.5V886.1M216.5,824.9V911.4M217.5,828.9V883.3M218.5,843.7V900.6M219.5,833.7V889.1M220.5,834.3V891.0M221.5,852.6V899.7M222.5,847.4V908.4M223.5,833.4V926.5M224.5,859.1V914.7M225.5,858.3V917.7M226.5,837.6V909.6M227.5,860.3V931.5M228.5,866.0V926.1M229.5,876.1V936.2M230.5,881.5V927.5M231.5,883.9V925.0M232.5,895.9V931.7M233.5,890.5V929.0M234.5,891.3V932.9M235.5,900.8V932.8M236.5,885.1V939.9M237.5,886.4V951.7M238.5,894.5V947.7M239.5,886.7V956.2M240.5,905.8V948.6M241.5,903.0V945.9M242.5,913.3V940.3M243.5,909.5V948.1M244.5,905.0V977.3M245.5,905.0V956.8M246.5,908.7V963.2M247.5,916.6V964.0M248.5,905.9V972.3M249.5,911.0V960.5M250.5,921.8V950.3M251.5,907.6V972.2M252.5,920.2V962.7M253.5,925.8V967.9M254.5,909.5V966.8M255.5,931.7V966.3M256.5,927.3V965.6M257.5,909.6V994.7M258.5,928.5V966.9M259.5,926.9V982.0M260.5,922.2V997.2M261.5,952.1V979.0M262.5,925.2V983.9M263.5,945.1V982.6M264.5,940.5V1003.1M265.5,934.6V976.7M266.5,952.0V978.8M267.5,952.4V989.2M268.5,951.7V1005.8M269.5,945.6V992.3M270.5,951.0V984.7M271.5,949.8V991.1M272.5,952.7V991.1M273.5,937.7V1010.6M274.5,955.0V1001.8M275.5,947.3V1003.5M276.5,935.5V992.2M277.5,938.4V994.0M278.5,944.9V992.0M279.5,959.9V992.0M280.5,957.3V1002.5M281.5,940.3V988.9M282.5,947.7V1001.7M283.5,963.8V992.5M284.5,965.2V994.2M285.5,959.5V994.5M286.5,951.7V989.0M287.5,965.5V1004.7M288.5,965.5V994.0M289.5,968.0V991.0M290.5,964.7V1004.9M291.5,971.2V996.0M292.5,964.7V995.7M293.5,963.6V999.3M294.5,959.0V998.9M295.5,963.9V1018.0M296.5,948.5V1000.7M297.5,971.7V1000.7M298.5,968.9V1014.7M299.5,972.3V1008.2M300.5,961.7V997.4M301.5,975.7V1007.0M302.5,970.7V995.2M303.5,976.8V1003.9M304.5,970.7V1000.1M305.5,978.5V1016.1M306.5,950.5V1023.5M307.5,969.5V1004.5M308.5,968.4V1016.4M309.5,970.3V1002.3M310.5,971.2V1006.8M311.5,975.3V1014.9M312.5,950.3V1014.9M313.5,950.2V1006.7M314.5,966.9V1004.9M315.5,975.7V1003.3M316.5,966.0V1007.8M317.5,975.7V1011.4M318.5,976.6V1000.0M319.5,957.7V1003.9M320.5,967.2V1023.1M321.5,969.9V997.9M322.5,967.5V1015.9M323.5,973.0V1005.3M324.5,979.0V1006.2M325.5,968.8V1002.2M326.5,963.8V1007.4M327.5,967.1V994.9M328.5,949.8V1010.5M329.5,965.4V1000.2M330.5,961.9V1005.2M331.5,949.7V1005.2M332.5,960.3V997.4M333.5,949.7V999.4M334.5,949.9V998.2M335.5,949.9V1023.2M336.5,973.1V1012.2M337.5,965.5V1009.4M338.5,965.5V1006.6M339.5,971.7V1009.1M340.5,970.3V1023.7M341.5,971.2V1004.1M342.5,971.2V1010.7M343.5,959.5V1003.4M344.5,960.8V1002.0M345.5,968.6V1024.6M346.5,967.6V1010.2M347.5,964.0V996.9M348.5,976.1V1011.9M349.5,968.0V1008.2M350.5,976.4V1025.7M351.5,964.5V1004.2M352.5,975.7V1009.6M353.5,971.1V1003.2M354.5,974.2V1021.6M355.5,973.8V1007.2M356.5,973.7V1015.8M357.5,973.2V1020.9M358.5,973.2V1015.3M359.5,976.8V1009.4M360.5,976.8V1008.5M361.5,963.4V1004.5M362.5,973.2V1011.1M363.5,963.2V1000.7M364.5,968.8V1016.3M365.5,974.3V1004.0M366.5,967.1V1003.0M367.5,969.8V1008.7M368.5,972.9V1008.9M369.5,982.3V1005.8M370.5,976.6V1013.4M371.5,984.0V1012.6M372.5,986.4V1028.4M373.5,981.1V1007.2M374.5,967.9V1028.5M375.5,969.0V1007.8M376.5,976.8V1010.3M377.5,976.5V1007.9M378.5,976.8V1007.9M379.5,980.3V1006.2M380.5,968.0V1007.1M381.5,968.0V1012.4M382.5,966.0V1006.4M383.5,957.4V1028.8M384.5,970.7V1014.7M385.5,986.0V1009.8M386.5,968.0V1010.8M387.5,966.4V1004.9M388.5,959.3V1008.1M389.5,972.3V1004.3M390.5,980.6V1013.6M391.5,983.3V1015.5M392.5,982.6V1022.2M393.5,964.9V1029.1M394.5,969.3V1022.8M395.5,972.5V1028.8M396.5,974.9V1008.8M397.5,959.9V1013.0M398.5,975.9V1006.7M399.5,978.5V1012.0M400.5,978.5V1029.5M401.5,983.5V1006.4M402.5,972.6V1027.0M403.5,978.6V1009.3M404.5,964.4V1011.7M405.5,970.4V1029.5M406.5,977.3V1029.5M407.5,976.7V1015.4M408.5,979.1V1018.1M409.5,966.9V1019.0M410.5,973.6V1020.7M411.5,967.2V1008.5M412.5,967.2V1019.4M413.5,979.1V1022.4M414.5,981.2V1018.6M415.5,984.0V1019.7M416.5,981.9V1003.8M417.5,984.0V1016.0M418.5,979.4V1024.6M419.5,987.2V1016.2M420.5,975.1V1025.3M421.5,981.2V1015.2M422.5,972.9V1012.0M423.5,983.8V1015.0M424.5,980.5V1022.9M425.5,978.5V1012.0M426.5,982.3V1004.1M427.5,983.4V1017.1M428.5,986.0V1018.8M429.5,974.6V1011.8M430.5,975.0V1010.3M431.5,983.8V1008.4M432.5,967.9V1012.2M433.5,981.2V1026.2M434.5,983.4V1020.3M435.5,970.1V1029.8M436.5,976.5V1016.2M437.5,983.6V1018.0M438.5,984.8V1018.9M439.5,975.0V1016.6M440.5,983.7V1007.9M441.5,972.3V1013.4M442.5,983.6V1033.4M443.5,983.0V1022.9M444.5,963.8V1013.3M445.5,979.5V1015.5M446.5,964.8V1005.5M447.5,983.4V1032.7M448.5,972.7V1013.5M449.5,972.4V1008.8M450.5,984.1V1017.1M451.5,987.1V1020.0M452.5,982.0V1009.4M453.5,979.2V1027.4M454.5,978.1V1011.3M455.5,983.8V1007.3M456.5,971.9V1016.0M457.5,973.4V1011.0M458.5,973.3V1006.6M459.5,969.2V1004.8M460.5,975.7V1018.1M461.5,976.6V1008.8M462.5,978.7V1008.2M463.5,983.9V1006.3M464.5,969.8V1009.6M465.5,977.1V1017.0M466.5,982.0V1011.0M467.5,972.3V1029.0M468.5,979.8V996.3M469.5,981.9V1006.2M470.5,976.3V1018.0M471.5,979.8V1028.7M472.5,975.9V1007.1M473.5,965.2V1009.1M474.5,961.4V1009.1M475.5,961.4V1005.7M476.5,974.5V1008.0M477.5,971.3V1013.1M478.5,975.3V1008.3M479.5,978.8V1019.5M480.5,962.7V1007.5M481.5,972.2V1013.8M482.5,962.0V1000.7M483.5,964.5V1018.3M484.5,962.2V1006.8M485.5,975.8V999.4M486.5,973.7V997.2M487.5,965.2V995.2M488.5,958.7V1003.9M489.5,958.5V997.4M490.5,953.7V1014.4M491.5,963.6V990.3M492.5,936.9V997.8M493.5,962.3V992.8M494.5,935.6V995.8M495.5,945.6V988.9M496.5,945.4V992.3M497.5,951.0V1001.7M498.5,957.6V1000.5M499.5,934.2V993.0M500.5,952.5V993.0M501.5,952.5V999.2M502.5,955.5V988.4M503.5,941.4V984.4M504.5,949.3V984.2M505.5,953.7V986.5M506.5,954.7V1007.8M507.5,947.9V987.1M508.5,960.1V988.5M509.5,963.4V981.3M510.5,950.1V986.0M511.5,938.1V993.7M512.5,957.1V1010.9M513.5,959.2V1003.7M514.5,948.2V991.5M515.5,950.8V1010.8M516.5,945.2V983.1M517.5,947.3V996.7M518.5,962.5V991.0M519.5,951.6V987.4M520.5,952.8V981.0M521.5,948.4V996.4M522.5,960.1V986.6M523.5,960.6V996.5M524.5,958.6V987.1M525.5,943.8V991.4M526.5,954.7V988.9M527.5,951.4V985.3M528.5,949.3V994.7M529.5,951.4V992.8M530.5,947.4V997.3M531.5,960.7V992.7M532.5,953.9V995.9M533.5,953.9V995.7M534.5,959.7V989.9M535.5,962.7V1006.5M536.5,964.6V1001.5M537.5,957.7V992.9M538.5,955.2V994.4M539.5,970.7V1010.8M540.5,953.7V1010.8M541.5,963.0V994.0M542.5,972.0V1008.4M543.5,968.3V1005.7M544.5,974.7V1008.6M545.5,976.3V1023.6M546.5,981.3V1021.3M547.5,978.3V1015.4M548.5,972.3V1015.4M549.5,986.3V1027.5M550.5,991.9V1021.1M551.5,975.2V1015.4M552.5,981.3V1030.4M553.5,967.5V1029.5M554.5,988.5V1017.0M555.5,975.6V1010.5M556.5,985.2V1014.2M557.5,985.1V1017.5M558.5,989.7V1017.3M559.5,981.5V1020.7M560.5,970.1V1018.7M561.5,986.0V1021.5M562.5,990.5V1035.0M563.5,979.1V1016.7M564.5,987.2V1022.6M565.5,987.0V1025.4M566.5,979.3V1029.2M567.5,987.5V1016.0M568.5,981.5V1011.5M569.5,985.3V1019.8M570.5,982.1V1021.2M571.5,968.4V1008.9M572.5,980.1V1018.9M573.5,984.5V1022.9M574.5,982.6V1011.3M575.5,973.2V1015.1M576.5,970.7V1011.6M577.5,981.2V1015.4M578.5,982.0V1028.7M579.5,979.3V1022.3M580.5,979.2V1015.3M581.5,988.3V1021.4M582.5,990.1V1011.5M583.5,983.3V1015.5M584.5,987.4V1017.4M585.5,982.1V1022.3M586.5,979.8V1024.4M587.5,984.2V1013.8M588.5,987.1V1015.6M589.5,991.3V1032.0M590.5,981.3V1010.7M591.5,985.1V1023.1M592.5,992.9V1021.7M593.5,993.2V1026.2M594.5,992.2V1022.7M595.5,979.9V1019.4M596.5,989.8V1029.1M597.5,1000.0V1025.2M598.5,996.4V1016.7M599.5,983.8V1023.0M600.5,993.1V1032.2M601.5,992.8V1038.5M602.5,982.5V1025.0M603.5,988.8V1015.5M604.5,997.3V1031.6M605.5,994.1V1022.0M606.5,982.4V1018.7M607.5,993.4V1003.9"/>
<rect x="84.1" y="672.4" width="524.4" height="404.5" fill="none" stroke="#000" stroke-width="1.9"/>
<path d="M84.1,1076.9h-6.3M84.1,1002.0h-6.3M84.1,927.1h-6.3M84.1,852.3h-6.3M84.1,777.4h-6.3M84.1,702.5h-6.3M158.9,1076.9v5.4M308.4,1076.9v5.4M457.6,1076.9v5.4M608.5,1076.9v5.4" stroke="#000" stroke-width="1.6" fill="none"/>
<text x="77.3" y="1009.9" font-size="24.5" text-anchor="end">100</text>
<text x="77.3" y="935.0" font-size="24.5" text-anchor="end">200</text>
<text x="77.3" y="860.2" font-size="24.5" text-anchor="end">300</text>
<text x="77.3" y="785.3" font-size="24.5" text-anchor="end">400</text>
<text x="77.3" y="710.4" font-size="24.5" text-anchor="end">500</text>
<text x="82" y="1074.4" font-size="24.5" text-anchor="end">0</text>
<text x="159.3" y="1103.7" font-size="24.5" text-anchor="middle">20</text>
<text x="308.9" y="1103.7" font-size="24.5" text-anchor="middle">40</text>
<text x="459.1" y="1103.7" font-size="24.5" text-anchor="middle">60</text>
<text x="609.7" y="1103.7" font-size="24.5" text-anchor="middle">80</text>
<text x="237.6" y="1146" font-size="25" textLength="176.8" lengthAdjust="spacingAndGlyphs">2 Theta (Degree)</text>
<text transform="translate(20.2,954) rotate(-90)" font-size="25" textLength="153.4" lengthAdjust="spacingAndGlyphs">Intensity (a.u.)</text>
<text x="93.4" y="707.6" font-size="21.2">a</text>
</g>
</svg>
</body></html>
